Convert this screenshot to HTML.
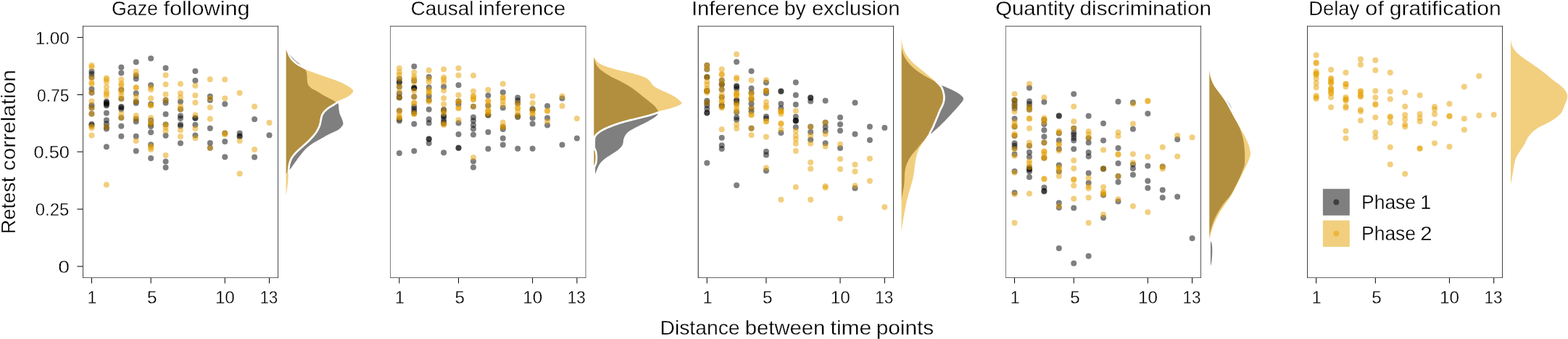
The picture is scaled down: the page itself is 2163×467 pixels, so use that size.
<!DOCTYPE html>
<html lang="en">
<head>
<meta charset="utf-8">
<title>Retest correlation by distance between time points</title>
<style>
html,body{margin:0;padding:0;background:#ffffff;}
body{width:2163px;height:467px;overflow:hidden;font-family:"Liberation Sans", Arial, Helvetica, sans-serif;}
svg{display:block;}
</style>
</head>
<body>
<svg width="2163" height="467" viewBox="0 0 2163 467" font-family='"Liberation Sans", Arial, Helvetica, sans-serif'>
<rect width="2163" height="467" fill="#ffffff"/>
<g id="panel1">
<text y="21.2" font-size="28.3" fill="#000" stroke="#fff" stroke-width="0.3"><tspan x="153.96" textLength="64.07" lengthAdjust="spacingAndGlyphs">Gaze</tspan> <tspan x="225.45" textLength="119.18" lengthAdjust="spacingAndGlyphs">following</tspan></text>
<g fill-opacity="0.5">
<circle cx="126.45" cy="98.5" r="4.0" fill="#000000"/>
<circle cx="126.45" cy="102" r="4.0" fill="#000000"/>
<circle cx="126.45" cy="106.5" r="4.0" fill="#000000"/>
<circle cx="126.45" cy="122.7" r="4.0" fill="#000000"/>
<circle cx="126.45" cy="127.7" r="4.0" fill="#000000"/>
<circle cx="126.45" cy="145" r="4.0" fill="#000000"/>
<circle cx="126.45" cy="148.4" r="4.0" fill="#000000"/>
<circle cx="126.45" cy="156.8" r="4.0" fill="#000000"/>
<circle cx="126.45" cy="171" r="4.0" fill="#000000"/>
<circle cx="126.45" cy="172.5" r="4.0" fill="#000000"/>
<circle cx="146.87" cy="139.8" r="4.0" fill="#000000"/>
<circle cx="146.87" cy="141.2" r="4.0" fill="#000000"/>
<circle cx="146.87" cy="142.6" r="4.0" fill="#000000"/>
<circle cx="146.87" cy="144" r="4.0" fill="#000000"/>
<circle cx="146.87" cy="145.6" r="4.0" fill="#000000"/>
<circle cx="146.87" cy="155.7" r="4.0" fill="#000000"/>
<circle cx="146.87" cy="165.4" r="4.0" fill="#000000"/>
<circle cx="146.87" cy="170.5" r="4.0" fill="#000000"/>
<circle cx="146.87" cy="174.9" r="4.0" fill="#000000"/>
<circle cx="146.87" cy="177.6" r="4.0" fill="#000000"/>
<circle cx="146.87" cy="202.3" r="4.0" fill="#000000"/>
<circle cx="167.29" cy="92.7" r="4.0" fill="#000000"/>
<circle cx="167.29" cy="100.4" r="4.0" fill="#000000"/>
<circle cx="167.29" cy="123.4" r="4.0" fill="#000000"/>
<circle cx="167.29" cy="136" r="4.0" fill="#000000"/>
<circle cx="167.29" cy="147" r="4.0" fill="#000000"/>
<circle cx="167.29" cy="148" r="4.0" fill="#000000"/>
<circle cx="167.29" cy="150.5" r="4.0" fill="#000000"/>
<circle cx="167.29" cy="162.3" r="4.0" fill="#000000"/>
<circle cx="167.29" cy="173.8" r="4.0" fill="#000000"/>
<circle cx="167.29" cy="187.8" r="4.0" fill="#000000"/>
<circle cx="187.71" cy="85.5" r="4.0" fill="#000000"/>
<circle cx="187.71" cy="104" r="4.0" fill="#000000"/>
<circle cx="187.71" cy="108.5" r="4.0" fill="#000000"/>
<circle cx="187.71" cy="128.6" r="4.0" fill="#000000"/>
<circle cx="187.71" cy="139.8" r="4.0" fill="#000000"/>
<circle cx="187.71" cy="142.1" r="4.0" fill="#000000"/>
<circle cx="187.71" cy="163.7" r="4.0" fill="#000000"/>
<circle cx="187.71" cy="167.6" r="4.0" fill="#000000"/>
<circle cx="187.71" cy="187.8" r="4.0" fill="#000000"/>
<circle cx="187.71" cy="207.9" r="4.0" fill="#000000"/>
<circle cx="208.13" cy="80.5" r="4.0" fill="#000000"/>
<circle cx="208.13" cy="117.3" r="4.0" fill="#000000"/>
<circle cx="208.13" cy="143.5" r="4.0" fill="#000000"/>
<circle cx="208.13" cy="165.8" r="4.0" fill="#000000"/>
<circle cx="208.13" cy="171" r="4.0" fill="#000000"/>
<circle cx="208.13" cy="174" r="4.0" fill="#000000"/>
<circle cx="208.13" cy="182.3" r="4.0" fill="#000000"/>
<circle cx="208.13" cy="199.2" r="4.0" fill="#000000"/>
<circle cx="208.13" cy="218" r="4.0" fill="#000000"/>
<circle cx="228.55" cy="93.7" r="4.0" fill="#000000"/>
<circle cx="228.55" cy="138" r="4.0" fill="#000000"/>
<circle cx="228.55" cy="141.7" r="4.0" fill="#000000"/>
<circle cx="228.55" cy="157.2" r="4.0" fill="#000000"/>
<circle cx="228.55" cy="171.5" r="4.0" fill="#000000"/>
<circle cx="228.55" cy="186.7" r="4.0" fill="#000000"/>
<circle cx="228.55" cy="222.4" r="4.0" fill="#000000"/>
<circle cx="228.55" cy="230.7" r="4.0" fill="#000000"/>
<circle cx="248.97" cy="140" r="4.0" fill="#000000"/>
<circle cx="248.97" cy="150.5" r="4.0" fill="#000000"/>
<circle cx="248.97" cy="159.5" r="4.0" fill="#000000"/>
<circle cx="248.97" cy="163" r="4.0" fill="#000000"/>
<circle cx="248.97" cy="171.4" r="4.0" fill="#000000"/>
<circle cx="248.97" cy="173.6" r="4.0" fill="#000000"/>
<circle cx="248.97" cy="197.3" r="4.0" fill="#000000"/>
<circle cx="269.39" cy="97.9" r="4.0" fill="#000000"/>
<circle cx="269.39" cy="111" r="4.0" fill="#000000"/>
<circle cx="269.39" cy="162.6" r="4.0" fill="#000000"/>
<circle cx="269.39" cy="163" r="4.0" fill="#000000"/>
<circle cx="269.39" cy="172.1" r="4.0" fill="#000000"/>
<circle cx="269.39" cy="186.4" r="4.0" fill="#000000"/>
<circle cx="289.81" cy="132.8" r="4.0" fill="#000000"/>
<circle cx="289.81" cy="138" r="4.0" fill="#000000"/>
<circle cx="289.81" cy="176.7" r="4.0" fill="#000000"/>
<circle cx="289.81" cy="196.9" r="4.0" fill="#000000"/>
<circle cx="289.81" cy="203.8" r="4.0" fill="#000000"/>
<circle cx="310.23" cy="143.3" r="4.0" fill="#000000"/>
<circle cx="310.23" cy="183.6" r="4.0" fill="#000000"/>
<circle cx="310.23" cy="195.1" r="4.0" fill="#000000"/>
<circle cx="310.23" cy="216.2" r="4.0" fill="#000000"/>
<circle cx="330.65" cy="183.6" r="4.0" fill="#000000"/>
<circle cx="330.65" cy="187.5" r="4.0" fill="#000000"/>
<circle cx="330.65" cy="188" r="4.0" fill="#000000"/>
<circle cx="351.07" cy="164.3" r="4.0" fill="#000000"/>
<circle cx="351.07" cy="216.6" r="4.0" fill="#000000"/>
<circle cx="371.49" cy="186.3" r="4.0" fill="#000000"/>
<circle cx="126.45" cy="89.9" r="4.0" fill="#E69F00"/>
<circle cx="126.45" cy="92.2" r="4.0" fill="#E69F00"/>
<circle cx="126.45" cy="107.3" r="4.0" fill="#E69F00"/>
<circle cx="126.45" cy="113.6" r="4.0" fill="#E69F00"/>
<circle cx="126.45" cy="115.8" r="4.0" fill="#E69F00"/>
<circle cx="126.45" cy="127.3" r="4.0" fill="#E69F00"/>
<circle cx="126.45" cy="139.4" r="4.0" fill="#E69F00"/>
<circle cx="126.45" cy="148.4" r="4.0" fill="#E69F00"/>
<circle cx="126.45" cy="156.8" r="4.0" fill="#E69F00"/>
<circle cx="126.45" cy="174.2" r="4.0" fill="#E69F00"/>
<circle cx="126.45" cy="176.3" r="4.0" fill="#E69F00"/>
<circle cx="126.45" cy="186.4" r="4.0" fill="#E69F00"/>
<circle cx="146.87" cy="107.5" r="4.0" fill="#E69F00"/>
<circle cx="146.87" cy="109.5" r="4.0" fill="#E69F00"/>
<circle cx="146.87" cy="113" r="4.0" fill="#E69F00"/>
<circle cx="146.87" cy="120" r="4.0" fill="#E69F00"/>
<circle cx="146.87" cy="126" r="4.0" fill="#E69F00"/>
<circle cx="146.87" cy="129" r="4.0" fill="#E69F00"/>
<circle cx="146.87" cy="132" r="4.0" fill="#E69F00"/>
<circle cx="146.87" cy="174.9" r="4.0" fill="#E69F00"/>
<circle cx="146.87" cy="254.5" r="4.0" fill="#E69F00"/>
<circle cx="167.29" cy="109.5" r="4.0" fill="#E69F00"/>
<circle cx="167.29" cy="115" r="4.0" fill="#E69F00"/>
<circle cx="167.29" cy="117.5" r="4.0" fill="#E69F00"/>
<circle cx="167.29" cy="123.8" r="4.0" fill="#E69F00"/>
<circle cx="167.29" cy="126.8" r="4.0" fill="#E69F00"/>
<circle cx="167.29" cy="131.7" r="4.0" fill="#E69F00"/>
<circle cx="167.29" cy="135.9" r="4.0" fill="#E69F00"/>
<circle cx="167.29" cy="156.8" r="4.0" fill="#E69F00"/>
<circle cx="167.29" cy="162.3" r="4.0" fill="#E69F00"/>
<circle cx="187.71" cy="98.4" r="4.0" fill="#E69F00"/>
<circle cx="187.71" cy="103.5" r="4.0" fill="#E69F00"/>
<circle cx="187.71" cy="120.5" r="4.0" fill="#E69F00"/>
<circle cx="187.71" cy="120.8" r="4.0" fill="#E69F00"/>
<circle cx="187.71" cy="133.1" r="4.0" fill="#E69F00"/>
<circle cx="187.71" cy="139.8" r="4.0" fill="#E69F00"/>
<circle cx="187.71" cy="159.3" r="4.0" fill="#E69F00"/>
<circle cx="187.71" cy="163.7" r="4.0" fill="#E69F00"/>
<circle cx="187.71" cy="193.9" r="4.0" fill="#E69F00"/>
<circle cx="208.13" cy="120.4" r="4.0" fill="#E69F00"/>
<circle cx="208.13" cy="123.5" r="4.0" fill="#E69F00"/>
<circle cx="208.13" cy="135.5" r="4.0" fill="#E69F00"/>
<circle cx="208.13" cy="145" r="4.0" fill="#E69F00"/>
<circle cx="208.13" cy="145.6" r="4.0" fill="#E69F00"/>
<circle cx="208.13" cy="162.3" r="4.0" fill="#E69F00"/>
<circle cx="208.13" cy="168.6" r="4.0" fill="#E69F00"/>
<circle cx="208.13" cy="171" r="4.0" fill="#E69F00"/>
<circle cx="208.13" cy="201.3" r="4.0" fill="#E69F00"/>
<circle cx="208.13" cy="203.4" r="4.0" fill="#E69F00"/>
<circle cx="208.13" cy="205.9" r="4.0" fill="#E69F00"/>
<circle cx="228.55" cy="103.5" r="4.0" fill="#E69F00"/>
<circle cx="228.55" cy="116.2" r="4.0" fill="#E69F00"/>
<circle cx="228.55" cy="130" r="4.0" fill="#E69F00"/>
<circle cx="228.55" cy="138" r="4.0" fill="#E69F00"/>
<circle cx="228.55" cy="171.5" r="4.0" fill="#E69F00"/>
<circle cx="228.55" cy="175.5" r="4.0" fill="#E69F00"/>
<circle cx="228.55" cy="180.4" r="4.0" fill="#E69F00"/>
<circle cx="228.55" cy="214" r="4.0" fill="#E69F00"/>
<circle cx="248.97" cy="115.6" r="4.0" fill="#E69F00"/>
<circle cx="248.97" cy="128.5" r="4.0" fill="#E69F00"/>
<circle cx="248.97" cy="134.2" r="4.0" fill="#E69F00"/>
<circle cx="248.97" cy="146.3" r="4.0" fill="#E69F00"/>
<circle cx="248.97" cy="150.5" r="4.0" fill="#E69F00"/>
<circle cx="248.97" cy="179.2" r="4.0" fill="#E69F00"/>
<circle cx="248.97" cy="188.1" r="4.0" fill="#E69F00"/>
<circle cx="269.39" cy="117.9" r="4.0" fill="#E69F00"/>
<circle cx="269.39" cy="131.4" r="4.0" fill="#E69F00"/>
<circle cx="269.39" cy="141.2" r="4.0" fill="#E69F00"/>
<circle cx="269.39" cy="158.4" r="4.0" fill="#E69F00"/>
<circle cx="269.39" cy="177" r="4.0" fill="#E69F00"/>
<circle cx="269.39" cy="190.2" r="4.0" fill="#E69F00"/>
<circle cx="289.81" cy="109.3" r="4.0" fill="#E69F00"/>
<circle cx="289.81" cy="135.6" r="4.0" fill="#E69F00"/>
<circle cx="289.81" cy="148" r="4.0" fill="#E69F00"/>
<circle cx="289.81" cy="163.7" r="4.0" fill="#E69F00"/>
<circle cx="289.81" cy="203.8" r="4.0" fill="#E69F00"/>
<circle cx="310.23" cy="109.5" r="4.0" fill="#E69F00"/>
<circle cx="310.23" cy="135.5" r="4.0" fill="#E69F00"/>
<circle cx="310.23" cy="183.6" r="4.0" fill="#E69F00"/>
<circle cx="310.23" cy="185.3" r="4.0" fill="#E69F00"/>
<circle cx="330.65" cy="127.9" r="4.0" fill="#E69F00"/>
<circle cx="330.65" cy="193.9" r="4.0" fill="#E69F00"/>
<circle cx="330.65" cy="239.2" r="4.0" fill="#E69F00"/>
<circle cx="351.07" cy="146.7" r="4.0" fill="#E69F00"/>
<circle cx="351.07" cy="205.9" r="4.0" fill="#E69F00"/>
<circle cx="371.49" cy="169" r="4.0" fill="#E69F00"/>
</g>
<g stroke="#000000" fill="none"><line x1="114.5" x2="114.5" y1="35.78" y2="382.8" stroke-width="0.75"/><line x1="383.5" x2="383.5" y1="35.78" y2="382.8" stroke-width="0.72"/><line x1="114.12" x2="383.86" y1="36.14" y2="36.14" stroke-width="0.72"/><line x1="114.12" x2="383.86" y1="382.5" y2="382.5" stroke-width="0.6"/></g>
<line x1="126.45" x2="126.45" y1="382.88" y2="390.4" stroke="#000" stroke-width="1"/>
<text y="418.3" font-size="24.5" fill="#000" stroke="#fff" stroke-width="0.3"><tspan x="120.58" textLength="12.95" lengthAdjust="spacingAndGlyphs">1</tspan></text>
<line x1="208.13" x2="208.13" y1="382.88" y2="390.4" stroke="#000" stroke-width="1"/>
<text y="418.3" font-size="24.5" fill="#000" stroke="#fff" stroke-width="0.3"><tspan x="203.11" textLength="13.49" lengthAdjust="spacingAndGlyphs">5</tspan></text>
<line x1="310.23" x2="310.23" y1="382.88" y2="390.4" stroke="#000" stroke-width="1"/>
<text y="418.3" font-size="24.5" fill="#000" stroke="#fff" stroke-width="0.3"><tspan x="296.89" textLength="26.97" lengthAdjust="spacingAndGlyphs">10</tspan></text>
<line x1="371.49" x2="371.49" y1="382.88" y2="390.4" stroke="#000" stroke-width="1"/>
<text y="418.3" font-size="24.5" fill="#000" stroke="#fff" stroke-width="0.3"><tspan x="358.4" textLength="24.95" lengthAdjust="spacingAndGlyphs">13</tspan></text>
<g stroke="#ffffff" stroke-width="2.7" stroke-linejoin="round" fill-opacity="0.5">
<path d="M393.15 65.5L395.85 65.5L396.18 66.08L396.59 66.83L397.08 67.73L397.64 68.74L398.24 69.81L398.87 70.91L399.53 72L400.19 73.04L400.85 74L401.45 74.81L402.08 75.62L402.73 76.43L403.4 77.24L404.09 78.03L404.78 78.81L405.48 79.57L406.18 80.31L406.87 81.02L407.55 81.7L408.4 82.5L409.25 83.23L410.1 83.92L410.95 84.58L411.8 85.23L412.65 85.89L413.5 86.58L414.35 87.3L415.12 87.98L415.92 88.69L416.73 89.41L417.54 90.15L418.33 90.89L419.09 91.62L419.81 92.34L420.47 93.03L421.05 93.7L421.79 94.64L422.41 95.52L422.92 96.38L423.35 97.22L423.72 98.09L424.05 99L424.32 99.96L424.5 100.95L424.62 101.96L424.7 102.97L424.77 103.99L424.85 105L424.92 106.01L424.95 107.03L424.98 108.05L425 109.06L425.05 110.05L425.15 111L425.28 112.1L425.41 113.17L425.59 114.2L425.88 115.21L426.35 116.2L426.87 117.01L427.49 117.8L428.21 118.58L429.01 119.33L429.89 120.08L430.85 120.8L431.65 121.33L432.53 121.83L433.46 122.33L434.44 122.81L435.44 123.3L436.44 123.79L437.42 124.28L438.35 124.8L439.23 125.33L440.08 125.86L440.9 126.39L441.73 126.94L442.56 127.49L443.44 128.05L444.36 128.62L445.35 129.2L446.21 129.68L447.12 130.18L448.08 130.68L449.07 131.2L450.07 131.72L451.07 132.24L452.07 132.75L453.04 133.25L453.97 133.73L454.85 134.2L455.9 134.77L456.94 135.32L457.94 135.86L458.91 136.39L459.85 136.9L460.73 137.39L461.57 137.86L462.35 138.3L463.49 138.91L464.51 139.43L465.41 139.92L466.19 140.42L466.85 141L467.61 142.1L468.04 143.31L468.35 144.7L468.49 145.65L468.56 146.67L468.59 147.75L468.64 148.87L468.75 150L468.88 150.97L469.02 151.98L469.19 153.01L469.38 154.03L469.59 155.04L469.85 156L470.22 157.09L470.66 158.13L471.13 159.15L471.61 160.17L472.05 161.2L472.49 162.28L472.93 163.39L473.36 164.49L473.74 165.54L474.05 166.5L474.44 167.82L474.68 168.97L474.65 170.2L474.47 171.24L474.18 172.33L473.67 173.48L472.85 174.7L472.32 175.34L471.75 176L471.12 176.68L470.41 177.38L469.62 178.09L468.72 178.82L467.7 179.55L466.55 180.3L465.82 180.73L465.02 181.17L464.16 181.61L463.25 182.06L462.3 182.51L461.31 182.97L460.31 183.43L459.29 183.89L458.26 184.35L457.24 184.82L456.22 185.29L455.23 185.76L454.27 186.23L453.35 186.7L452.38 187.21L451.42 187.73L450.47 188.26L449.52 188.79L448.58 189.32L447.65 189.86L446.72 190.39L445.8 190.92L444.89 191.45L443.99 191.98L443.1 192.49L442.22 193L441.35 193.5L440.42 194.02L439.5 194.53L438.58 195.02L437.68 195.5L436.79 195.98L435.91 196.46L435.04 196.93L434.18 197.42L433.33 197.91L432.5 198.42L431.67 198.95L430.85 199.5L429.97 200.12L429.1 200.75L428.25 201.4L427.4 202.05L426.57 202.72L425.75 203.4L424.95 204.1L424.16 204.81L423.37 205.52L422.61 206.26L421.85 207L421.11 207.76L420.37 208.56L419.66 209.37L418.95 210.2L418.25 211.03L417.57 211.88L416.9 212.72L416.25 213.56L415.6 214.39L414.97 215.21L414.35 216L413.69 216.85L413.05 217.69L412.44 218.52L411.84 219.33L411.26 220.14L410.68 220.95L410.1 221.76L409.53 222.57L408.94 223.38L408.35 224.2L407.75 225.03L407.16 225.87L406.57 226.71L405.97 227.55L405.38 228.39L404.79 229.23L404.19 230.07L403.58 230.89L402.97 231.7L402.35 232.5L401.61 233.41L400.81 234.36L399.98 235.34L399.14 236.3L398.32 237.22L397.55 238.09L396.87 238.85L396.29 239.5L395.85 240L393.15 240Z" fill="#000000"/>
<path d="M393.15 67.6L395.85 67.6L396.08 68.18L396.37 68.92L396.69 69.8L397.05 70.78L397.45 71.85L397.88 72.97L398.34 74.12L398.81 75.26L399.31 76.38L399.81 77.45L400.33 78.43L400.85 79.3L401.51 80.25L402.21 81.16L402.96 82.03L403.74 82.86L404.54 83.65L405.34 84.4L406.13 85.11L406.91 85.78L407.65 86.41L408.35 87L409.27 87.74L410.13 88.35L410.95 88.86L411.75 89.32L412.57 89.75L413.43 90.2L414.35 90.7L415.18 91.17L416.01 91.63L416.85 92.09L417.73 92.55L418.64 93.02L419.62 93.5L420.69 93.99L421.85 94.5L422.68 94.85L423.55 95.2L424.46 95.56L425.41 95.92L426.38 96.29L427.38 96.66L428.41 97.04L429.46 97.42L430.53 97.81L431.62 98.2L432.73 98.6L433.85 99L434.76 99.33L435.7 99.66L436.66 99.99L437.63 100.33L438.63 100.68L439.63 101.02L440.65 101.37L441.68 101.73L442.71 102.08L443.74 102.43L444.77 102.79L445.8 103.14L446.83 103.5L447.84 103.85L448.85 104.2L449.86 104.55L450.88 104.91L451.92 105.27L452.97 105.63L454.02 105.99L455.07 106.35L456.11 106.71L457.15 107.07L458.17 107.43L459.18 107.79L460.17 108.14L461.14 108.49L462.08 108.83L462.98 109.17L463.85 109.5L464.98 109.94L466.05 110.36L467.08 110.77L468.06 111.17L469.01 111.56L469.93 111.95L470.83 112.35L471.72 112.74L472.59 113.15L473.47 113.57L474.35 114L475.33 114.5L476.32 115.01L477.3 115.55L478.27 116.09L479.23 116.63L480.15 117.17L481.03 117.71L481.86 118.23L482.64 118.73L483.35 119.2L484.4 119.96L485.32 120.69L486.12 121.38L486.8 122.04L487.37 122.65L487.85 123.2L488.62 124.34L488.55 125.5L488.29 126.41L487.87 127.46L487.24 128.58L486.35 129.7L485.72 130.33L485 130.96L484.2 131.61L483.33 132.26L482.39 132.91L481.4 133.55L480.35 134.2L479.55 134.66L478.68 135.13L477.75 135.61L476.79 136.09L475.81 136.56L474.82 137.03L473.71 137.48L472.65 137.92L471.67 138.32L470.78 138.7L469.23 139.36L467.9 139.91L466.73 140.41L465.63 140.9L464.7 141.4L463.75 142.01L462.99 142.59L462.15 143.22L461 144L460.23 144.47L459.36 144.97L458.4 145.52L457.39 146.09L456.37 146.68L455.36 147.28L454.39 147.89L453.5 148.5L452.54 149.21L451.6 149.93L450.68 150.67L449.8 151.43L448.97 152.19L448.2 152.95L447.5 153.7L446.77 154.57L446.13 155.43L445.57 156.3L445.07 157.18L444.61 158.07L444.2 159L443.84 159.96L443.56 160.95L443.32 161.96L443.11 162.97L442.91 163.99L442.7 165L442.5 166L442.32 167L442.15 168L441.97 169L441.76 170L441.5 171L441.2 171.99L440.89 172.96L440.54 173.94L440.15 174.93L439.71 175.94L439.2 177L438.8 177.81L438.38 178.62L437.95 179.44L437.49 180.28L436.97 181.15L436.4 182.05L435.74 183L435 184L434.44 184.71L433.84 185.45L433.19 186.23L432.5 187.03L431.79 187.85L431.05 188.67L430.29 189.51L429.53 190.34L428.76 191.16L428 191.96L427.24 192.75L426.5 193.5L425.77 194.23L425.03 194.94L424.29 195.64L423.54 196.33L422.79 197L422.03 197.68L421.28 198.34L420.52 199.01L419.76 199.67L419.01 200.34L418.25 201.02L417.5 201.7L416.74 202.39L415.97 203.09L415.18 203.79L414.39 204.49L413.6 205.19L412.81 205.89L412.04 206.59L411.28 207.29L410.54 207.98L409.83 208.66L409.14 209.34L408.5 210L407.69 210.87L406.91 211.72L406.17 212.56L405.46 213.39L404.8 214.21L404.17 215.03L403.57 215.85L403.02 216.67L402.5 217.5L401.97 218.44L401.5 219.38L401.08 220.31L400.7 221.25L400.36 222.19L400.05 223.12L399.77 224.06L399.5 225L399.23 226.07L399.01 227.14L398.83 228.21L398.68 229.29L398.55 230.36L398.42 231.43L398.3 232.5L398.18 233.55L398.08 234.57L398 235.58L398.12 236.61L398.41 237.67L398.72 238.8L399.05 240L399 240.9L398.95 241.84L398.91 242.82L398.88 243.82L398.84 244.84L398.8 245.88L398.75 246.92L398.69 247.96L398.63 248.99L398.55 250L398.46 251L398.36 252.01L398.25 253.03L398.13 254.04L398.01 255.05L397.89 256.06L397.75 257.06L397.62 258.05L397.49 259.03L397.35 260L397.19 261.11L397.01 262.27L396.82 263.47L396.62 264.65L396.43 265.79L396.25 266.84L396.09 267.79L395.95 268.59L395.85 269.2L393.15 269.2Z" fill="#E69F00"/>
</g>
</g>
<g id="panel2">
<text y="21.2" font-size="28.3" fill="#000" stroke="#fff" stroke-width="0.3"><tspan x="566.5" textLength="87.02" lengthAdjust="spacingAndGlyphs">Causal</tspan> <tspan x="659.91" textLength="120.33" lengthAdjust="spacingAndGlyphs">inference</tspan></text>
<g fill-opacity="0.5">
<circle cx="550.85" cy="108.5" r="4.0" fill="#000000"/>
<circle cx="550.85" cy="113" r="4.0" fill="#000000"/>
<circle cx="550.85" cy="113.8" r="4.0" fill="#000000"/>
<circle cx="550.85" cy="119.5" r="4.0" fill="#000000"/>
<circle cx="550.85" cy="128.7" r="4.0" fill="#000000"/>
<circle cx="550.85" cy="134" r="4.0" fill="#000000"/>
<circle cx="550.85" cy="134.5" r="4.0" fill="#000000"/>
<circle cx="550.85" cy="152.4" r="4.0" fill="#000000"/>
<circle cx="550.85" cy="164" r="4.0" fill="#000000"/>
<circle cx="550.85" cy="166.5" r="4.0" fill="#000000"/>
<circle cx="550.85" cy="211" r="4.0" fill="#000000"/>
<circle cx="571.27" cy="91.6" r="4.0" fill="#000000"/>
<circle cx="571.27" cy="111" r="4.0" fill="#000000"/>
<circle cx="571.27" cy="120.8" r="4.0" fill="#000000"/>
<circle cx="571.27" cy="121.3" r="4.0" fill="#000000"/>
<circle cx="571.27" cy="121.8" r="4.0" fill="#000000"/>
<circle cx="571.27" cy="133.2" r="4.0" fill="#000000"/>
<circle cx="571.27" cy="146.8" r="4.0" fill="#000000"/>
<circle cx="571.27" cy="150" r="4.0" fill="#000000"/>
<circle cx="571.27" cy="153.2" r="4.0" fill="#000000"/>
<circle cx="571.27" cy="155.9" r="4.0" fill="#000000"/>
<circle cx="571.27" cy="170.8" r="4.0" fill="#000000"/>
<circle cx="571.27" cy="208" r="4.0" fill="#000000"/>
<circle cx="591.69" cy="106" r="4.0" fill="#000000"/>
<circle cx="591.69" cy="120.4" r="4.0" fill="#000000"/>
<circle cx="591.69" cy="132.2" r="4.0" fill="#000000"/>
<circle cx="591.69" cy="137.8" r="4.0" fill="#000000"/>
<circle cx="591.69" cy="150.7" r="4.0" fill="#000000"/>
<circle cx="591.69" cy="164.2" r="4.0" fill="#000000"/>
<circle cx="591.69" cy="169.5" r="4.0" fill="#000000"/>
<circle cx="591.69" cy="191.2" r="4.0" fill="#000000"/>
<circle cx="591.69" cy="191.8" r="4.0" fill="#000000"/>
<circle cx="591.69" cy="197.3" r="4.0" fill="#000000"/>
<circle cx="612.11" cy="119.4" r="4.0" fill="#000000"/>
<circle cx="612.11" cy="151" r="4.0" fill="#000000"/>
<circle cx="612.11" cy="152.4" r="4.0" fill="#000000"/>
<circle cx="612.11" cy="159.5" r="4.0" fill="#000000"/>
<circle cx="612.11" cy="161" r="4.0" fill="#000000"/>
<circle cx="612.11" cy="165" r="4.0" fill="#000000"/>
<circle cx="612.11" cy="168.5" r="4.0" fill="#000000"/>
<circle cx="612.11" cy="170.5" r="4.0" fill="#000000"/>
<circle cx="612.11" cy="210.3" r="4.0" fill="#000000"/>
<circle cx="632.53" cy="117.3" r="4.0" fill="#000000"/>
<circle cx="632.53" cy="139.6" r="4.0" fill="#000000"/>
<circle cx="632.53" cy="143.4" r="4.0" fill="#000000"/>
<circle cx="632.53" cy="169.5" r="4.0" fill="#000000"/>
<circle cx="632.53" cy="185" r="4.0" fill="#000000"/>
<circle cx="632.53" cy="203.6" r="4.0" fill="#000000"/>
<circle cx="632.53" cy="204" r="4.0" fill="#000000"/>
<circle cx="652.95" cy="146.8" r="4.0" fill="#000000"/>
<circle cx="652.95" cy="161.5" r="4.0" fill="#000000"/>
<circle cx="652.95" cy="166.3" r="4.0" fill="#000000"/>
<circle cx="652.95" cy="172.3" r="4.0" fill="#000000"/>
<circle cx="652.95" cy="177.5" r="4.0" fill="#000000"/>
<circle cx="652.95" cy="185.5" r="4.0" fill="#000000"/>
<circle cx="652.95" cy="222.2" r="4.0" fill="#000000"/>
<circle cx="652.95" cy="230.5" r="4.0" fill="#000000"/>
<circle cx="673.37" cy="131.5" r="4.0" fill="#000000"/>
<circle cx="673.37" cy="145.5" r="4.0" fill="#000000"/>
<circle cx="673.37" cy="158.2" r="4.0" fill="#000000"/>
<circle cx="673.37" cy="158.7" r="4.0" fill="#000000"/>
<circle cx="673.37" cy="181.9" r="4.0" fill="#000000"/>
<circle cx="673.37" cy="204.9" r="4.0" fill="#000000"/>
<circle cx="693.79" cy="127.3" r="4.0" fill="#000000"/>
<circle cx="693.79" cy="148.5" r="4.0" fill="#000000"/>
<circle cx="693.79" cy="174.7" r="4.0" fill="#000000"/>
<circle cx="693.79" cy="177.9" r="4.0" fill="#000000"/>
<circle cx="693.79" cy="190.5" r="4.0" fill="#000000"/>
<circle cx="693.79" cy="199.5" r="4.0" fill="#000000"/>
<circle cx="714.21" cy="134.6" r="4.0" fill="#000000"/>
<circle cx="714.21" cy="138.5" r="4.0" fill="#000000"/>
<circle cx="714.21" cy="142.5" r="4.0" fill="#000000"/>
<circle cx="714.21" cy="159.4" r="4.0" fill="#000000"/>
<circle cx="714.21" cy="161.2" r="4.0" fill="#000000"/>
<circle cx="714.21" cy="204.8" r="4.0" fill="#000000"/>
<circle cx="734.63" cy="150" r="4.0" fill="#000000"/>
<circle cx="734.63" cy="151.7" r="4.0" fill="#000000"/>
<circle cx="734.63" cy="162.6" r="4.0" fill="#000000"/>
<circle cx="734.63" cy="170.5" r="4.0" fill="#000000"/>
<circle cx="734.63" cy="204.8" r="4.0" fill="#000000"/>
<circle cx="755.05" cy="146" r="4.0" fill="#000000"/>
<circle cx="755.05" cy="162.6" r="4.0" fill="#000000"/>
<circle cx="755.05" cy="172.6" r="4.0" fill="#000000"/>
<circle cx="775.47" cy="135.5" r="4.0" fill="#000000"/>
<circle cx="775.47" cy="199.6" r="4.0" fill="#000000"/>
<circle cx="795.89" cy="190.5" r="4.0" fill="#000000"/>
<circle cx="550.85" cy="93.9" r="4.0" fill="#E69F00"/>
<circle cx="550.85" cy="99.5" r="4.0" fill="#E69F00"/>
<circle cx="550.85" cy="103" r="4.0" fill="#E69F00"/>
<circle cx="550.85" cy="108.5" r="4.0" fill="#E69F00"/>
<circle cx="550.85" cy="119" r="4.0" fill="#E69F00"/>
<circle cx="550.85" cy="126" r="4.0" fill="#E69F00"/>
<circle cx="550.85" cy="134" r="4.0" fill="#E69F00"/>
<circle cx="550.85" cy="152.4" r="4.0" fill="#E69F00"/>
<circle cx="550.85" cy="157.3" r="4.0" fill="#E69F00"/>
<circle cx="550.85" cy="161.2" r="4.0" fill="#E69F00"/>
<circle cx="550.85" cy="162.8" r="4.0" fill="#E69F00"/>
<circle cx="571.27" cy="99.8" r="4.0" fill="#E69F00"/>
<circle cx="571.27" cy="105.8" r="4.0" fill="#E69F00"/>
<circle cx="571.27" cy="108.5" r="4.0" fill="#E69F00"/>
<circle cx="571.27" cy="113.4" r="4.0" fill="#E69F00"/>
<circle cx="571.27" cy="125.2" r="4.0" fill="#E69F00"/>
<circle cx="571.27" cy="133.2" r="4.0" fill="#E69F00"/>
<circle cx="571.27" cy="141.5" r="4.0" fill="#E69F00"/>
<circle cx="571.27" cy="142.2" r="4.0" fill="#E69F00"/>
<circle cx="571.27" cy="155.9" r="4.0" fill="#E69F00"/>
<circle cx="571.27" cy="157.3" r="4.0" fill="#E69F00"/>
<circle cx="591.69" cy="96.7" r="4.0" fill="#E69F00"/>
<circle cx="591.69" cy="108.5" r="4.0" fill="#E69F00"/>
<circle cx="591.69" cy="112.7" r="4.0" fill="#E69F00"/>
<circle cx="591.69" cy="123.2" r="4.0" fill="#E69F00"/>
<circle cx="591.69" cy="126.5" r="4.0" fill="#E69F00"/>
<circle cx="591.69" cy="128" r="4.0" fill="#E69F00"/>
<circle cx="591.69" cy="137.8" r="4.0" fill="#E69F00"/>
<circle cx="591.69" cy="139.9" r="4.0" fill="#E69F00"/>
<circle cx="612.11" cy="95.6" r="4.0" fill="#E69F00"/>
<circle cx="612.11" cy="106.5" r="4.0" fill="#E69F00"/>
<circle cx="612.11" cy="109.2" r="4.0" fill="#E69F00"/>
<circle cx="612.11" cy="113.4" r="4.0" fill="#E69F00"/>
<circle cx="612.11" cy="124.8" r="4.0" fill="#E69F00"/>
<circle cx="612.11" cy="135.3" r="4.0" fill="#E69F00"/>
<circle cx="612.11" cy="143.5" r="4.0" fill="#E69F00"/>
<circle cx="612.11" cy="152.4" r="4.0" fill="#E69F00"/>
<circle cx="612.11" cy="155.9" r="4.0" fill="#E69F00"/>
<circle cx="612.11" cy="170.5" r="4.0" fill="#E69F00"/>
<circle cx="612.11" cy="171.9" r="4.0" fill="#E69F00"/>
<circle cx="632.53" cy="93.9" r="4.0" fill="#E69F00"/>
<circle cx="632.53" cy="103.7" r="4.0" fill="#E69F00"/>
<circle cx="632.53" cy="131" r="4.0" fill="#E69F00"/>
<circle cx="632.53" cy="139.6" r="4.0" fill="#E69F00"/>
<circle cx="632.53" cy="140.2" r="4.0" fill="#E69F00"/>
<circle cx="632.53" cy="148.6" r="4.0" fill="#E69F00"/>
<circle cx="632.53" cy="149.2" r="4.0" fill="#E69F00"/>
<circle cx="632.53" cy="165.3" r="4.0" fill="#E69F00"/>
<circle cx="652.95" cy="104.1" r="4.0" fill="#E69F00"/>
<circle cx="652.95" cy="125.7" r="4.0" fill="#E69F00"/>
<circle cx="652.95" cy="132.6" r="4.0" fill="#E69F00"/>
<circle cx="652.95" cy="133.2" r="4.0" fill="#E69F00"/>
<circle cx="652.95" cy="136.7" r="4.0" fill="#E69F00"/>
<circle cx="652.95" cy="137.3" r="4.0" fill="#E69F00"/>
<circle cx="652.95" cy="146.8" r="4.0" fill="#E69F00"/>
<circle cx="652.95" cy="217" r="4.0" fill="#E69F00"/>
<circle cx="673.37" cy="123.7" r="4.0" fill="#E69F00"/>
<circle cx="673.37" cy="139" r="4.0" fill="#E69F00"/>
<circle cx="673.37" cy="139.8" r="4.0" fill="#E69F00"/>
<circle cx="673.37" cy="145.5" r="4.0" fill="#E69F00"/>
<circle cx="673.37" cy="152.1" r="4.0" fill="#E69F00"/>
<circle cx="673.37" cy="152.7" r="4.0" fill="#E69F00"/>
<circle cx="673.37" cy="154.5" r="4.0" fill="#E69F00"/>
<circle cx="673.37" cy="157.5" r="4.0" fill="#E69F00"/>
<circle cx="693.79" cy="115.4" r="4.0" fill="#E69F00"/>
<circle cx="693.79" cy="133.6" r="4.0" fill="#E69F00"/>
<circle cx="693.79" cy="135.3" r="4.0" fill="#E69F00"/>
<circle cx="693.79" cy="139.2" r="4.0" fill="#E69F00"/>
<circle cx="693.79" cy="144.5" r="4.0" fill="#E69F00"/>
<circle cx="693.79" cy="168.7" r="4.0" fill="#E69F00"/>
<circle cx="693.79" cy="174.4" r="4.0" fill="#E69F00"/>
<circle cx="693.79" cy="175" r="4.0" fill="#E69F00"/>
<circle cx="714.21" cy="142.5" r="4.0" fill="#E69F00"/>
<circle cx="714.21" cy="148.6" r="4.0" fill="#E69F00"/>
<circle cx="714.21" cy="149.2" r="4.0" fill="#E69F00"/>
<circle cx="714.21" cy="154.5" r="4.0" fill="#E69F00"/>
<circle cx="714.21" cy="159.4" r="4.0" fill="#E69F00"/>
<circle cx="734.63" cy="132.5" r="4.0" fill="#E69F00"/>
<circle cx="734.63" cy="142.1" r="4.0" fill="#E69F00"/>
<circle cx="734.63" cy="151.7" r="4.0" fill="#E69F00"/>
<circle cx="734.63" cy="156.3" r="4.0" fill="#E69F00"/>
<circle cx="734.63" cy="156.9" r="4.0" fill="#E69F00"/>
<circle cx="755.05" cy="152.4" r="4.0" fill="#E69F00"/>
<circle cx="755.05" cy="153" r="4.0" fill="#E69F00"/>
<circle cx="755.05" cy="167.3" r="4.0" fill="#E69F00"/>
<circle cx="775.47" cy="132.6" r="4.0" fill="#E69F00"/>
<circle cx="775.47" cy="146" r="4.0" fill="#E69F00"/>
<circle cx="795.89" cy="163.3" r="4.0" fill="#E69F00"/>
</g>
<g stroke="#000000" fill="none"><line x1="538.5" x2="538.5" y1="35.78" y2="382.8" stroke-width="0.5"/><line x1="808" x2="808" y1="35.78" y2="382.8" stroke-width="0.56"/><line x1="538.25" x2="808.28" y1="36.14" y2="36.14" stroke-width="0.72"/><line x1="538.25" x2="808.28" y1="382.5" y2="382.5" stroke-width="0.6"/></g>
<line x1="550.85" x2="550.85" y1="382.88" y2="390.4" stroke="#000" stroke-width="1"/>
<text y="418.3" font-size="24.5" fill="#000" stroke="#fff" stroke-width="0.3"><tspan x="544.98" textLength="12.95" lengthAdjust="spacingAndGlyphs">1</tspan></text>
<line x1="632.53" x2="632.53" y1="382.88" y2="390.4" stroke="#000" stroke-width="1"/>
<text y="418.3" font-size="24.5" fill="#000" stroke="#fff" stroke-width="0.3"><tspan x="627.51" textLength="13.49" lengthAdjust="spacingAndGlyphs">5</tspan></text>
<line x1="734.63" x2="734.63" y1="382.88" y2="390.4" stroke="#000" stroke-width="1"/>
<text y="418.3" font-size="24.5" fill="#000" stroke="#fff" stroke-width="0.3"><tspan x="721.29" textLength="26.97" lengthAdjust="spacingAndGlyphs">10</tspan></text>
<line x1="795.89" x2="795.89" y1="382.88" y2="390.4" stroke="#000" stroke-width="1"/>
<text y="418.3" font-size="24.5" fill="#000" stroke="#fff" stroke-width="0.3"><tspan x="782.8" textLength="24.95" lengthAdjust="spacingAndGlyphs">13</tspan></text>
<g stroke="#ffffff" stroke-width="2.7" stroke-linejoin="round" fill-opacity="0.5">
<path d="M817.85 79L820.55 79L820.74 79.57L820.96 80.31L821.21 81.19L821.5 82.17L821.81 83.23L822.16 84.34L822.54 85.46L822.94 86.57L823.38 87.63L823.85 88.62L824.35 89.5L824.93 90.37L825.54 91.19L826.19 91.97L826.87 92.72L827.59 93.44L828.35 94.14L829.15 94.84L830 95.55L830.9 96.26L831.85 97L832.57 97.54L833.32 98.08L834.1 98.62L834.91 99.17L835.74 99.71L836.6 100.26L837.48 100.8L838.37 101.34L839.27 101.88L840.18 102.42L841.1 102.95L842.02 103.47L842.94 103.99L843.85 104.5L844.71 104.97L845.59 105.43L846.48 105.89L847.38 106.34L848.29 106.79L849.21 107.23L850.14 107.67L851.06 108.11L851.99 108.55L852.91 108.99L853.82 109.43L854.72 109.87L855.61 110.31L856.49 110.75L857.35 111.2L858.33 111.72L859.29 112.23L860.25 112.75L861.2 113.26L862.14 113.78L863.07 114.29L864 114.81L864.91 115.33L865.82 115.85L866.71 116.38L867.6 116.91L868.48 117.45L869.35 118L870.29 118.6L871.22 119.22L872.14 119.85L873.05 120.49L873.96 121.13L874.85 121.77L875.73 122.41L876.59 123.05L877.44 123.68L878.26 124.3L879.07 124.91L879.85 125.5L880.75 126.19L881.6 126.86L882.42 127.52L883.21 128.16L883.98 128.8L884.73 129.43L885.49 130.07L886.26 130.7L887.04 131.35L887.85 132L888.68 132.66L889.53 133.33L890.39 134.01L891.26 134.68L892.13 135.36L893 136.04L893.86 136.71L894.71 137.38L895.54 138.05L896.35 138.7L897.24 139.42L898.14 140.13L899.04 140.84L899.92 141.54L900.78 142.24L901.61 142.94L902.4 143.63L903.15 144.32L903.85 145L904.68 145.89L905.47 146.8L906.19 147.71L906.84 148.61L907.43 149.46L907.93 150.27L908.35 151L908.92 152.4L909.06 153.54L909.05 154.7L909.12 155.91L909.03 157.13L908.35 158.5L907.82 159.16L907.2 159.84L906.46 160.55L905.62 161.29L904.66 162.06L903.57 162.86L902.35 163.7L901.63 164.17L900.85 164.66L900.02 165.16L899.15 165.68L898.24 166.2L897.3 166.74L896.33 167.28L895.35 167.82L894.35 168.36L893.34 168.9L892.34 169.44L891.34 169.98L890.35 170.5L889.48 170.95L888.59 171.41L887.67 171.87L886.74 172.33L885.79 172.79L884.84 173.25L883.89 173.71L882.94 174.17L882 174.63L881.07 175.07L880.17 175.52L879.29 175.95L878.44 176.38L877.62 176.79L876.85 177.2L875.75 177.79L874.69 178.35L873.68 178.9L872.71 179.43L871.79 179.94L870.91 180.45L870.08 180.96L869.29 181.47L868.55 181.98L867.85 182.5L866.81 183.37L865.92 184.24L865.16 185.1L864.5 185.96L863.9 186.83L863.35 187.7L862.77 188.77L862.3 189.88L861.92 190.97L861.61 192.02L861.35 193L861.15 194.07L861.1 195.02L861.05 195.96L860.85 197L860.61 197.92L860.35 198.88L860.01 199.88L859.53 200.92L858.85 202L858.31 202.7L857.7 203.43L857.02 204.18L856.29 204.94L855.5 205.71L854.65 206.48L853.77 207.24L852.85 208L852.07 208.6L851.24 209.2L850.37 209.8L849.47 210.4L848.54 211L847.59 211.6L846.64 212.2L845.7 212.8L844.76 213.4L843.85 214L842.94 214.6L842 215.2L841.06 215.8L840.11 216.4L839.16 217L838.23 217.6L837.33 218.2L836.46 218.8L835.63 219.4L834.85 220L833.94 220.75L833.08 221.48L832.27 222.22L831.51 222.96L830.79 223.7L830.1 224.45L829.46 225.22L828.85 226L828.21 226.93L827.62 227.9L827.1 228.9L826.61 229.89L826.17 230.87L825.75 231.81L825.35 232.7L824.85 233.87L824.42 234.98L824.04 236.04L823.69 237.05L823.35 238L822.9 239.19L822.48 240.33L822.11 241.31L821.85 242L817.85 242Z" fill="#000000"/>
<path d="M817.85 77.8L820.55 77.8L820.92 78.37L821.38 79.14L821.92 80.06L822.54 81.07L823.25 82.13L824.04 83.17L824.9 84.15L825.85 85L826.59 85.55L827.38 86.08L828.22 86.58L829.1 87.07L830.02 87.54L830.98 88L831.98 88.44L833.02 88.89L834.1 89.32L835.21 89.76L836.35 90.2L837.22 90.52L838.12 90.84L839.06 91.16L840.03 91.48L841.02 91.79L842.03 92.1L843.05 92.4L844.09 92.71L845.13 93.01L846.18 93.3L847.23 93.59L848.28 93.88L849.32 94.16L850.34 94.43L851.35 94.7L852.35 94.96L853.35 95.21L854.35 95.46L855.35 95.69L856.35 95.92L857.35 96.15L858.35 96.37L859.35 96.59L860.35 96.81L861.35 97.03L862.35 97.26L863.35 97.48L864.35 97.72L865.35 97.95L866.35 98.2L867.36 98.45L868.38 98.71L869.42 98.97L870.47 99.23L871.52 99.49L872.57 99.76L873.61 100.03L874.65 100.3L875.67 100.57L876.68 100.84L877.67 101.11L878.64 101.39L879.58 101.66L880.48 101.93L881.35 102.2L882.49 102.57L883.59 102.93L884.66 103.29L885.69 103.65L886.68 104.01L887.64 104.38L888.55 104.75L889.43 105.12L890.28 105.5L891.08 105.9L891.85 106.3L892.96 106.95L893.94 107.61L894.82 108.29L895.62 108.98L896.38 109.7L897.11 110.44L897.85 111.2L898.53 112.01L899.11 112.85L899.65 113.73L900.19 114.62L900.78 115.5L901.48 116.37L902.35 117.2L903.05 117.76L903.81 118.31L904.62 118.84L905.48 119.38L906.38 119.9L907.32 120.42L908.29 120.94L909.29 121.46L910.31 121.98L911.35 122.5L912.18 122.9L913.06 123.31L913.98 123.71L914.92 124.11L915.88 124.52L916.86 124.92L917.84 125.32L918.82 125.72L919.78 126.12L920.72 126.52L921.64 126.91L922.52 127.31L923.35 127.7L924.38 128.21L925.39 128.72L926.37 129.22L927.31 129.72L928.23 130.22L929.11 130.72L929.97 131.22L930.79 131.72L931.59 132.21L932.35 132.7L933.38 133.4L934.35 134.1L935.25 134.8L936.1 135.5L936.89 136.18L937.64 136.85L938.35 137.5L939.36 138.38L940.35 139.23L941.21 140.06L941.82 140.88L942.05 141.7L941.92 142.5L941.5 143.29L940.78 144.07L939.74 144.87L938.35 145.7L937.65 146.06L936.87 146.42L936 146.8L935.08 147.17L934.09 147.55L933.06 147.94L931.98 148.32L930.88 148.7L929.76 149.08L928.62 149.46L927.48 149.83L926.35 150.2L925.44 150.49L924.5 150.77L923.53 151.05L922.46 151.33L921.37 151.6L920.27 151.87L919.16 152.15L918.05 152.42L916.92 152.69L915.8 152.97L914.67 153.24L913.55 153.53L912.42 153.81L911.31 154.1L910.2 154.4L909.1 154.7L908 155.02L907 155.34L906 155.66L905 155.99L904 156.32L903 156.66L902 156.99L901 157.32L900 157.65L899 157.98L898 158.29L897 158.61L896 158.91L895 159.2L894 159.48L893 159.76L892 160.03L891 160.29L890 160.54L889 160.8L888 161.05L887 161.29L886 161.54L885 161.78L884 162.02L883 162.26L882 162.51L881 162.75L880 163L879 163.25L878 163.49L877 163.73L876 163.97L875 164.21L874 164.45L873 164.69L872 164.93L871 165.17L870 165.41L869 165.66L868 165.91L867 166.17L866 166.43L865 166.7L864 166.97L863 167.25L862 167.52L861 167.8L860 168.09L859 168.37L858 168.66L857 168.95L856 169.25L855 169.56L854 169.87L853 170.19L852 170.52L851 170.85L850 171.2L849.05 171.54L848.08 171.88L847.1 172.24L846.11 172.61L845.11 172.99L844.11 173.37L843.11 173.76L842.12 174.15L841.15 174.54L840.19 174.94L839.24 175.33L838.33 175.71L837.44 176.1L836.59 176.47L835.77 176.84L835 177.2L833.84 177.76L832.75 178.31L831.73 178.86L830.77 179.39L829.86 179.92L829.01 180.45L828.2 180.97L827.44 181.48L826.7 181.99L826 182.5L824.92 183.33L823.96 184.14L823.12 184.94L822.39 185.73L821.75 186.51L821.2 187.3L820.59 188.33L820.23 189.26L820.01 190.38L819.85 192L819.79 192.78L819.74 193.68L819.69 194.68L819.66 195.75L819.64 196.86L819.63 197.98L819.63 199.1L819.66 200.19L819.7 201.22L819.76 202.16L819.85 203L820.1 204.27L820.46 205.3L820.87 206.19L821.3 207.04L821.69 207.94L822 209L822.18 209.9L822.34 210.86L822.49 211.85L822.61 212.88L822.71 213.91L822.79 214.95L822.83 215.99L822.85 217L822.83 218.01L822.79 219.05L822.71 220.09L822.61 221.12L822.49 222.15L822.34 223.14L822.18 224.1L822 225L821.69 226.08L821.3 227.02L820.87 227.91L820.46 228.81L820.1 229.82L819.85 231L819.76 231.95L819.71 233.06L819.69 234.26L819.7 235.5L819.73 236.74L819.77 237.91L819.81 238.96L819.84 239.84L819.85 240.5L817.85 240.5Z" fill="#E69F00"/>
</g>
</g>
<g id="panel3">
<text y="21.2" font-size="28.3" fill="#000" stroke="#fff" stroke-width="0.3"><tspan x="954" textLength="121.19" lengthAdjust="spacingAndGlyphs">Inference</tspan> <tspan x="1081.73" textLength="29.95" lengthAdjust="spacingAndGlyphs">by</tspan> <tspan x="1119.9" textLength="121.51" lengthAdjust="spacingAndGlyphs">exclusion</tspan></text>
<g fill-opacity="0.5">
<circle cx="975.25" cy="90" r="4.0" fill="#000000"/>
<circle cx="975.25" cy="95.5" r="4.0" fill="#000000"/>
<circle cx="975.25" cy="106" r="4.0" fill="#000000"/>
<circle cx="975.25" cy="106.5" r="4.0" fill="#000000"/>
<circle cx="975.25" cy="125" r="4.0" fill="#000000"/>
<circle cx="975.25" cy="125.5" r="4.0" fill="#000000"/>
<circle cx="975.25" cy="138.8" r="4.0" fill="#000000"/>
<circle cx="975.25" cy="141.6" r="4.0" fill="#000000"/>
<circle cx="975.25" cy="145" r="4.0" fill="#000000"/>
<circle cx="975.25" cy="149.9" r="4.0" fill="#000000"/>
<circle cx="975.25" cy="155.2" r="4.0" fill="#000000"/>
<circle cx="975.25" cy="155.8" r="4.0" fill="#000000"/>
<circle cx="975.25" cy="224.4" r="4.0" fill="#000000"/>
<circle cx="995.67" cy="110.7" r="4.0" fill="#000000"/>
<circle cx="995.67" cy="116" r="4.0" fill="#000000"/>
<circle cx="995.67" cy="116.5" r="4.0" fill="#000000"/>
<circle cx="995.67" cy="123.3" r="4.0" fill="#000000"/>
<circle cx="995.67" cy="133.9" r="4.0" fill="#000000"/>
<circle cx="995.67" cy="145" r="4.0" fill="#000000"/>
<circle cx="995.67" cy="146.5" r="4.0" fill="#000000"/>
<circle cx="995.67" cy="189.8" r="4.0" fill="#000000"/>
<circle cx="995.67" cy="200.3" r="4.0" fill="#000000"/>
<circle cx="995.67" cy="204.9" r="4.0" fill="#000000"/>
<circle cx="1016.09" cy="85.2" r="4.0" fill="#000000"/>
<circle cx="1016.09" cy="118.2" r="4.0" fill="#000000"/>
<circle cx="1016.09" cy="119.4" r="4.0" fill="#000000"/>
<circle cx="1016.09" cy="122.6" r="4.0" fill="#000000"/>
<circle cx="1016.09" cy="137.8" r="4.0" fill="#000000"/>
<circle cx="1016.09" cy="138.4" r="4.0" fill="#000000"/>
<circle cx="1016.09" cy="142.3" r="4.0" fill="#000000"/>
<circle cx="1016.09" cy="154.5" r="4.0" fill="#000000"/>
<circle cx="1016.09" cy="161.8" r="4.0" fill="#000000"/>
<circle cx="1016.09" cy="165" r="4.0" fill="#000000"/>
<circle cx="1016.09" cy="255.3" r="4.0" fill="#000000"/>
<circle cx="1036.51" cy="98" r="4.0" fill="#000000"/>
<circle cx="1036.51" cy="121.8" r="4.0" fill="#000000"/>
<circle cx="1036.51" cy="128" r="4.0" fill="#000000"/>
<circle cx="1036.51" cy="136.7" r="4.0" fill="#000000"/>
<circle cx="1036.51" cy="143" r="4.0" fill="#000000"/>
<circle cx="1036.51" cy="149.2" r="4.0" fill="#000000"/>
<circle cx="1036.51" cy="153.4" r="4.0" fill="#000000"/>
<circle cx="1036.51" cy="176.8" r="4.0" fill="#000000"/>
<circle cx="1056.93" cy="113.7" r="4.0" fill="#000000"/>
<circle cx="1056.93" cy="125" r="4.0" fill="#000000"/>
<circle cx="1056.93" cy="128.5" r="4.0" fill="#000000"/>
<circle cx="1056.93" cy="160.4" r="4.0" fill="#000000"/>
<circle cx="1056.93" cy="163.3" r="4.0" fill="#000000"/>
<circle cx="1056.93" cy="208.7" r="4.0" fill="#000000"/>
<circle cx="1056.93" cy="213.6" r="4.0" fill="#000000"/>
<circle cx="1056.93" cy="235.2" r="4.0" fill="#000000"/>
<circle cx="1077.35" cy="125.4" r="4.0" fill="#000000"/>
<circle cx="1077.35" cy="125.9" r="4.0" fill="#000000"/>
<circle cx="1077.35" cy="143" r="4.0" fill="#000000"/>
<circle cx="1077.35" cy="149.2" r="4.0" fill="#000000"/>
<circle cx="1077.35" cy="183" r="4.0" fill="#000000"/>
<circle cx="1097.77" cy="113.4" r="4.0" fill="#000000"/>
<circle cx="1097.77" cy="131" r="4.0" fill="#000000"/>
<circle cx="1097.77" cy="143.9" r="4.0" fill="#000000"/>
<circle cx="1097.77" cy="160.8" r="4.0" fill="#000000"/>
<circle cx="1097.77" cy="165.8" r="4.0" fill="#000000"/>
<circle cx="1097.77" cy="166.2" r="4.0" fill="#000000"/>
<circle cx="1097.77" cy="166.7" r="4.0" fill="#000000"/>
<circle cx="1097.77" cy="175.2" r="4.0" fill="#000000"/>
<circle cx="1118.19" cy="134.3" r="4.0" fill="#000000"/>
<circle cx="1118.19" cy="134.9" r="4.0" fill="#000000"/>
<circle cx="1118.19" cy="139.5" r="4.0" fill="#000000"/>
<circle cx="1118.19" cy="174.6" r="4.0" fill="#000000"/>
<circle cx="1118.19" cy="182" r="4.0" fill="#000000"/>
<circle cx="1118.19" cy="192.4" r="4.0" fill="#000000"/>
<circle cx="1138.61" cy="138.8" r="4.0" fill="#000000"/>
<circle cx="1138.61" cy="168.7" r="4.0" fill="#000000"/>
<circle cx="1138.61" cy="174.8" r="4.0" fill="#000000"/>
<circle cx="1138.61" cy="180.4" r="4.0" fill="#000000"/>
<circle cx="1138.61" cy="197.3" r="4.0" fill="#000000"/>
<circle cx="1159.03" cy="161.8" r="4.0" fill="#000000"/>
<circle cx="1159.03" cy="171.2" r="4.0" fill="#000000"/>
<circle cx="1159.03" cy="179.9" r="4.0" fill="#000000"/>
<circle cx="1159.03" cy="204" r="4.0" fill="#000000"/>
<circle cx="1179.45" cy="141.6" r="4.0" fill="#000000"/>
<circle cx="1179.45" cy="184.7" r="4.0" fill="#000000"/>
<circle cx="1179.45" cy="259.2" r="4.0" fill="#000000"/>
<circle cx="1199.87" cy="174.6" r="4.0" fill="#000000"/>
<circle cx="1199.87" cy="193.1" r="4.0" fill="#000000"/>
<circle cx="1220.29" cy="176" r="4.0" fill="#000000"/>
<circle cx="975.25" cy="90" r="4.0" fill="#E69F00"/>
<circle cx="975.25" cy="95" r="4.0" fill="#E69F00"/>
<circle cx="975.25" cy="106" r="4.0" fill="#E69F00"/>
<circle cx="975.25" cy="112.3" r="4.0" fill="#E69F00"/>
<circle cx="975.25" cy="116.5" r="4.0" fill="#E69F00"/>
<circle cx="975.25" cy="121.7" r="4.0" fill="#E69F00"/>
<circle cx="975.25" cy="125.3" r="4.0" fill="#E69F00"/>
<circle cx="975.25" cy="127.5" r="4.0" fill="#E69F00"/>
<circle cx="975.25" cy="141.6" r="4.0" fill="#E69F00"/>
<circle cx="995.67" cy="95.6" r="4.0" fill="#E69F00"/>
<circle cx="995.67" cy="102.3" r="4.0" fill="#E69F00"/>
<circle cx="995.67" cy="102.9" r="4.0" fill="#E69F00"/>
<circle cx="995.67" cy="110.7" r="4.0" fill="#E69F00"/>
<circle cx="995.67" cy="116.2" r="4.0" fill="#E69F00"/>
<circle cx="995.67" cy="123.3" r="4.0" fill="#E69F00"/>
<circle cx="995.67" cy="130.4" r="4.0" fill="#E69F00"/>
<circle cx="995.67" cy="133.9" r="4.0" fill="#E69F00"/>
<circle cx="995.67" cy="139.2" r="4.0" fill="#E69F00"/>
<circle cx="995.67" cy="139.8" r="4.0" fill="#E69F00"/>
<circle cx="995.67" cy="146.5" r="4.0" fill="#E69F00"/>
<circle cx="995.67" cy="148.5" r="4.0" fill="#E69F00"/>
<circle cx="995.67" cy="178.2" r="4.0" fill="#E69F00"/>
<circle cx="1016.09" cy="74.7" r="4.0" fill="#E69F00"/>
<circle cx="1016.09" cy="106.8" r="4.0" fill="#E69F00"/>
<circle cx="1016.09" cy="108.9" r="4.0" fill="#E69F00"/>
<circle cx="1016.09" cy="127.6" r="4.0" fill="#E69F00"/>
<circle cx="1016.09" cy="129.5" r="4.0" fill="#E69F00"/>
<circle cx="1016.09" cy="130.4" r="4.0" fill="#E69F00"/>
<circle cx="1016.09" cy="132.5" r="4.0" fill="#E69F00"/>
<circle cx="1016.09" cy="142.3" r="4.0" fill="#E69F00"/>
<circle cx="1016.09" cy="145.8" r="4.0" fill="#E69F00"/>
<circle cx="1016.09" cy="149.9" r="4.0" fill="#E69F00"/>
<circle cx="1016.09" cy="153.5" r="4.0" fill="#E69F00"/>
<circle cx="1016.09" cy="171.5" r="4.0" fill="#E69F00"/>
<circle cx="1016.09" cy="177.1" r="4.0" fill="#E69F00"/>
<circle cx="1036.51" cy="110.5" r="4.0" fill="#E69F00"/>
<circle cx="1036.51" cy="128" r="4.0" fill="#E69F00"/>
<circle cx="1036.51" cy="132.5" r="4.0" fill="#E69F00"/>
<circle cx="1036.51" cy="135" r="4.0" fill="#E69F00"/>
<circle cx="1036.51" cy="137.4" r="4.0" fill="#E69F00"/>
<circle cx="1036.51" cy="149.2" r="4.0" fill="#E69F00"/>
<circle cx="1036.51" cy="158" r="4.0" fill="#E69F00"/>
<circle cx="1036.51" cy="158.6" r="4.0" fill="#E69F00"/>
<circle cx="1036.51" cy="176.8" r="4.0" fill="#E69F00"/>
<circle cx="1036.51" cy="186" r="4.0" fill="#E69F00"/>
<circle cx="1056.93" cy="110.2" r="4.0" fill="#E69F00"/>
<circle cx="1056.93" cy="125" r="4.0" fill="#E69F00"/>
<circle cx="1056.93" cy="125.6" r="4.0" fill="#E69F00"/>
<circle cx="1056.93" cy="140.6" r="4.0" fill="#E69F00"/>
<circle cx="1056.93" cy="145.8" r="4.0" fill="#E69F00"/>
<circle cx="1056.93" cy="148.5" r="4.0" fill="#E69F00"/>
<circle cx="1056.93" cy="167" r="4.0" fill="#E69F00"/>
<circle cx="1056.93" cy="167.6" r="4.0" fill="#E69F00"/>
<circle cx="1056.93" cy="188.5" r="4.0" fill="#E69F00"/>
<circle cx="1056.93" cy="231.2" r="4.0" fill="#E69F00"/>
<circle cx="1077.35" cy="152.8" r="4.0" fill="#E69F00"/>
<circle cx="1077.35" cy="153.4" r="4.0" fill="#E69F00"/>
<circle cx="1077.35" cy="154" r="4.0" fill="#E69F00"/>
<circle cx="1077.35" cy="156.9" r="4.0" fill="#E69F00"/>
<circle cx="1077.35" cy="170.1" r="4.0" fill="#E69F00"/>
<circle cx="1077.35" cy="170.7" r="4.0" fill="#E69F00"/>
<circle cx="1077.35" cy="178.4" r="4.0" fill="#E69F00"/>
<circle cx="1077.35" cy="275" r="4.0" fill="#E69F00"/>
<circle cx="1097.77" cy="152.7" r="4.0" fill="#E69F00"/>
<circle cx="1097.77" cy="180.2" r="4.0" fill="#E69F00"/>
<circle cx="1097.77" cy="186.8" r="4.0" fill="#E69F00"/>
<circle cx="1097.77" cy="191.7" r="4.0" fill="#E69F00"/>
<circle cx="1097.77" cy="197.7" r="4.0" fill="#E69F00"/>
<circle cx="1097.77" cy="208.1" r="4.0" fill="#E69F00"/>
<circle cx="1097.77" cy="257.8" r="4.0" fill="#E69F00"/>
<circle cx="1118.19" cy="174.9" r="4.0" fill="#E69F00"/>
<circle cx="1118.19" cy="186.8" r="4.0" fill="#E69F00"/>
<circle cx="1118.19" cy="197.7" r="4.0" fill="#E69F00"/>
<circle cx="1118.19" cy="223.7" r="4.0" fill="#E69F00"/>
<circle cx="1118.19" cy="232.5" r="4.0" fill="#E69F00"/>
<circle cx="1118.19" cy="275" r="4.0" fill="#E69F00"/>
<circle cx="1138.61" cy="168.7" r="4.0" fill="#E69F00"/>
<circle cx="1138.61" cy="184.8" r="4.0" fill="#E69F00"/>
<circle cx="1138.61" cy="201.7" r="4.0" fill="#E69F00"/>
<circle cx="1138.61" cy="256.5" r="4.0" fill="#E69F00"/>
<circle cx="1138.61" cy="258.5" r="4.0" fill="#E69F00"/>
<circle cx="1159.03" cy="198.7" r="4.0" fill="#E69F00"/>
<circle cx="1159.03" cy="218.9" r="4.0" fill="#E69F00"/>
<circle cx="1159.03" cy="233.1" r="4.0" fill="#E69F00"/>
<circle cx="1159.03" cy="300.9" r="4.0" fill="#E69F00"/>
<circle cx="1179.45" cy="226.8" r="4.0" fill="#E69F00"/>
<circle cx="1179.45" cy="236.2" r="4.0" fill="#E69F00"/>
<circle cx="1179.45" cy="255.8" r="4.0" fill="#E69F00"/>
<circle cx="1199.87" cy="218.4" r="4.0" fill="#E69F00"/>
<circle cx="1199.87" cy="249.2" r="4.0" fill="#E69F00"/>
<circle cx="1220.29" cy="285.2" r="4.0" fill="#E69F00"/>
</g>
<g stroke="#000000" fill="none"><line x1="963.2" x2="963.2" y1="35.78" y2="382.8" stroke-width="0.87"/><line x1="1232.5" x2="1232.5" y1="35.78" y2="382.8" stroke-width="0.75"/><line x1="962.77" x2="1232.88" y1="36.14" y2="36.14" stroke-width="0.72"/><line x1="962.77" x2="1232.88" y1="382.5" y2="382.5" stroke-width="0.6"/></g>
<line x1="975.25" x2="975.25" y1="382.88" y2="390.4" stroke="#000" stroke-width="1"/>
<text y="418.3" font-size="24.5" fill="#000" stroke="#fff" stroke-width="0.3"><tspan x="969.38" textLength="12.95" lengthAdjust="spacingAndGlyphs">1</tspan></text>
<line x1="1056.93" x2="1056.93" y1="382.88" y2="390.4" stroke="#000" stroke-width="1"/>
<text y="418.3" font-size="24.5" fill="#000" stroke="#fff" stroke-width="0.3"><tspan x="1051.91" textLength="13.49" lengthAdjust="spacingAndGlyphs">5</tspan></text>
<line x1="1159.03" x2="1159.03" y1="382.88" y2="390.4" stroke="#000" stroke-width="1"/>
<text y="418.3" font-size="24.5" fill="#000" stroke="#fff" stroke-width="0.3"><tspan x="1145.69" textLength="26.97" lengthAdjust="spacingAndGlyphs">10</tspan></text>
<line x1="1220.29" x2="1220.29" y1="382.88" y2="390.4" stroke="#000" stroke-width="1"/>
<text y="418.3" font-size="24.5" fill="#000" stroke="#fff" stroke-width="0.3"><tspan x="1207.2" textLength="24.95" lengthAdjust="spacingAndGlyphs">13</tspan></text>
<g stroke="#ffffff" stroke-width="2.7" stroke-linejoin="round" fill-opacity="0.5">
<path d="M1242.15 65L1244.85 65L1245.02 65.63L1245.21 66.44L1245.43 67.4L1245.69 68.48L1245.97 69.64L1246.29 70.85L1246.63 72.08L1247.01 73.28L1247.41 74.44L1247.85 75.5L1248.27 76.41L1248.72 77.32L1249.19 78.22L1249.68 79.12L1250.21 80L1250.75 80.88L1251.32 81.76L1251.92 82.63L1252.54 83.49L1253.18 84.35L1253.85 85.2L1254.49 85.98L1255.14 86.75L1255.82 87.52L1256.52 88.28L1257.24 89.04L1257.97 89.79L1258.74 90.54L1259.52 91.28L1260.32 92.02L1261.14 92.75L1261.99 93.48L1262.85 94.2L1263.61 94.82L1264.39 95.43L1265.2 96.04L1266.02 96.65L1266.85 97.25L1267.7 97.85L1268.57 98.44L1269.44 99.04L1270.33 99.62L1271.22 100.21L1272.13 100.79L1273.03 101.36L1273.94 101.93L1274.85 102.5L1275.71 103.03L1276.6 103.55L1277.5 104.08L1278.42 104.6L1279.35 105.11L1280.29 105.63L1281.22 106.14L1282.16 106.65L1283.09 107.15L1284.02 107.64L1284.93 108.13L1285.82 108.61L1286.69 109.08L1287.53 109.55L1288.35 110L1289.33 110.56L1290.27 111.1L1291.19 111.64L1292.07 112.17L1292.94 112.68L1293.79 113.19L1294.63 113.68L1295.46 114.17L1296.3 114.64L1297.13 115.1L1297.98 115.56L1298.85 116L1299.8 116.46L1300.76 116.9L1301.71 117.32L1302.67 117.72L1303.62 118.11L1304.58 118.49L1305.53 118.88L1306.49 119.26L1307.44 119.66L1308.4 120.07L1309.35 120.5L1310.32 120.95L1311.3 121.4L1312.29 121.86L1313.29 122.34L1314.29 122.81L1315.28 123.29L1316.25 123.77L1317.2 124.26L1318.12 124.74L1319.01 125.22L1319.85 125.7L1320.84 126.29L1321.8 126.89L1322.74 127.49L1323.64 128.09L1324.49 128.69L1325.29 129.29L1326.04 129.87L1326.73 130.45L1327.35 131L1328.31 131.95L1329.09 132.86L1329.69 133.74L1330.11 134.61L1330.35 135.5L1330.4 136.55L1330.16 137.56L1329.65 138.66L1328.85 140L1328.39 140.7L1327.85 141.45L1327.24 142.25L1326.57 143.09L1325.87 143.95L1325.13 144.84L1324.37 145.73L1323.61 146.62L1322.85 147.5L1322.23 148.21L1321.6 148.93L1320.95 149.64L1320.3 150.36L1319.63 151.09L1318.95 151.83L1318.25 152.57L1317.54 153.33L1316.83 154.1L1316.09 154.89L1315.35 155.7L1314.71 156.4L1314.05 157.13L1313.38 157.87L1312.69 158.62L1312 159.39L1311.3 160.16L1310.59 160.94L1309.88 161.72L1309.17 162.49L1308.46 163.26L1307.75 164.02L1307.05 164.77L1306.35 165.5L1305.6 166.28L1304.86 167.05L1304.12 167.81L1303.38 168.57L1302.64 169.32L1301.9 170.07L1301.16 170.81L1300.41 171.55L1299.66 172.29L1298.9 173.03L1298.13 173.76L1297.35 174.5L1296.61 175.19L1295.86 175.88L1295.08 176.58L1294.29 177.28L1293.5 177.98L1292.7 178.67L1291.91 179.36L1291.13 180.04L1290.36 180.71L1289.62 181.36L1288.89 182L1288.2 182.61L1287.55 183.2L1286.67 184L1285.87 184.74L1285.12 185.43L1284.4 186.1L1283.71 186.75L1283.03 187.4L1282.33 188.07L1281.61 188.76L1280.85 189.5L1280.13 190.19L1279.4 190.9L1278.66 191.61L1277.91 192.34L1277.15 193.08L1276.39 193.83L1275.63 194.6L1274.86 195.38L1274.1 196.18L1273.35 197L1272.67 197.76L1271.99 198.55L1271.3 199.35L1270.62 200.16L1269.94 200.99L1269.26 201.82L1268.58 202.66L1267.9 203.5L1267.21 204.34L1266.53 205.18L1265.85 206L1265.16 206.82L1264.45 207.66L1263.72 208.5L1263 209.34L1262.27 210.18L1261.56 211.01L1260.86 211.84L1260.18 212.65L1259.53 213.45L1258.92 214.24L1258.35 215L1257.63 216.01L1256.98 216.98L1256.38 217.92L1255.82 218.84L1255.3 219.75L1254.8 220.66L1254.32 221.57L1253.85 222.5L1253.39 223.43L1252.96 224.34L1252.55 225.25L1252.16 226.16L1251.8 227.08L1251.46 228.02L1251.14 228.99L1250.85 230L1250.61 230.93L1250.39 231.9L1250.19 232.89L1250.01 233.9L1249.85 234.92L1249.71 235.94L1249.57 236.97L1249.46 237.99L1249.35 239L1249.27 240L1249.21 241L1249.18 242L1249.17 243L1249.16 244L1249.15 245L1249.13 246L1249.1 247L1249.05 248L1248.98 248.99L1248.91 249.97L1248.83 250.94L1248.74 251.92L1248.64 252.9L1248.54 253.89L1248.42 254.9L1248.29 255.93L1248.15 257L1248.01 258L1247.84 259.03L1247.67 260.09L1247.48 261.16L1247.29 262.25L1247.09 263.34L1246.9 264.41L1246.71 265.47L1246.52 266.5L1246.35 267.5L1246.16 268.62L1245.97 269.77L1245.77 270.94L1245.58 272.1L1245.4 273.2L1245.23 274.22L1245.08 275.13L1244.95 275.9L1244.85 276.5L1242.15 276.5Z" fill="#000000"/>
<path d="M1242.15 51.5L1244.85 51.5L1244.93 52.13L1245.03 52.95L1245.14 53.93L1245.27 55.02L1245.41 56.19L1245.57 57.4L1245.74 58.63L1245.93 59.83L1246.13 60.96L1246.35 62L1246.6 63.07L1246.86 64.1L1247.13 65.11L1247.42 66.1L1247.73 67.08L1248.07 68.06L1248.45 69.03L1248.88 70.01L1249.35 71L1249.82 71.9L1250.31 72.8L1250.83 73.7L1251.39 74.6L1251.97 75.5L1252.59 76.4L1253.23 77.3L1253.91 78.2L1254.61 79.1L1255.35 80L1255.99 80.75L1256.64 81.49L1257.32 82.23L1258.02 82.97L1258.74 83.71L1259.47 84.46L1260.24 85.2L1261.02 85.95L1261.82 86.7L1262.64 87.46L1263.49 88.23L1264.35 89L1265.07 89.63L1265.82 90.28L1266.61 90.93L1267.41 91.59L1268.24 92.26L1269.08 92.94L1269.93 93.61L1270.77 94.28L1271.62 94.94L1272.46 95.6L1273.29 96.25L1274.09 96.89L1274.88 97.51L1275.63 98.12L1276.35 98.7L1277.29 99.47L1278.2 100.22L1279.09 100.96L1279.95 101.67L1280.78 102.36L1281.6 103.04L1282.39 103.71L1283.16 104.35L1283.91 104.98L1284.64 105.6L1285.35 106.2L1286.3 107L1287.2 107.78L1288.06 108.52L1288.88 109.24L1289.67 109.92L1290.23 110.58L1290.74 111.2L1291.24 111.8L1291.99 112.64L1292.69 113.35L1293.33 114.02L1294.16 114.71L1295 115.5L1295.71 116.23L1296.43 117L1297.12 117.79L1297.8 118.64L1298.43 119.54L1299 120.5L1299.45 121.4L1299.87 122.37L1300.26 123.39L1300.62 124.43L1300.95 125.48L1301.24 126.51L1301.5 127.5L1301.76 128.62L1301.97 129.72L1302.14 130.81L1302.27 131.89L1302.36 132.95L1302.4 134L1302.4 135.03L1302.36 136.06L1302.28 137.06L1302.15 138.06L1301.99 139.03L1301.8 140L1301.52 141.12L1301.2 142.19L1300.82 143.25L1300.38 144.34L1299.9 145.5L1299.52 146.35L1299.1 147.21L1298.65 148.08L1298.17 148.99L1297.69 149.93L1297.19 150.93L1296.7 152L1296.31 152.89L1295.91 153.83L1295.51 154.81L1295.1 155.83L1294.68 156.86L1294.26 157.91L1293.84 158.95L1293.42 159.99L1293 161L1292.58 162L1292.16 163.02L1291.74 164.03L1291.31 165.04L1290.89 166.05L1290.46 167.06L1290.04 168.05L1289.62 169.04L1289.2 170L1288.74 171.07L1288.29 172.14L1287.84 173.2L1287.39 174.24L1286.94 175.26L1286.48 176.27L1286 177.25L1285.5 178.2L1284.99 179.1L1284.47 179.95L1283.94 180.76L1283.58 181.55L1283.29 182.35L1282.98 183.18L1282.67 184.05L1282.35 185L1281.81 185.81L1281.25 186.66L1280.66 187.54L1280.06 188.44L1279.44 189.36L1278.82 190.29L1278.2 191.23L1277.57 192.16L1276.96 193.09L1276.35 194L1275.74 194.9L1275.11 195.8L1274.48 196.7L1273.84 197.6L1273.21 198.5L1272.59 199.4L1271.99 200.3L1271.41 201.2L1270.86 202.1L1270.35 203L1269.82 204L1269.33 205L1268.86 206L1268.42 207L1268.01 208L1267.62 209L1267.24 210L1266.89 211L1266.55 212L1266.23 213L1265.93 214L1265.66 215L1265.41 216L1265.17 217L1264.95 218L1264.74 219L1264.54 220L1264.35 221L1264.17 222L1264.01 223L1263.87 224L1263.74 225L1263.62 226L1263.51 227L1263.39 228L1263.27 229L1263.15 230L1263.03 230.99L1262.92 231.97L1262.82 232.94L1262.71 233.92L1262.61 234.9L1262.49 235.89L1262.37 236.9L1262.22 237.93L1262.05 239L1261.88 239.99L1261.69 241L1261.5 242.04L1261.29 243.09L1261.07 244.16L1260.84 245.23L1260.6 246.3L1260.36 247.38L1260.11 248.44L1259.85 249.5L1259.58 250.55L1259.3 251.6L1259.01 252.65L1258.71 253.7L1258.4 254.75L1258.09 255.8L1257.78 256.85L1257.46 257.9L1257.15 258.95L1256.85 260L1256.55 261.05L1256.24 262.1L1255.93 263.15L1255.63 264.2L1255.32 265.25L1255.01 266.3L1254.71 267.35L1254.42 268.4L1254.13 269.45L1253.85 270.5L1253.58 271.54L1253.32 272.56L1253.06 273.57L1252.81 274.58L1252.57 275.59L1252.33 276.62L1252.08 277.67L1251.84 278.74L1251.6 279.85L1251.35 281L1251.16 281.91L1250.97 282.85L1250.77 283.8L1250.58 284.77L1250.39 285.75L1250.2 286.75L1250 287.76L1249.81 288.78L1249.62 289.81L1249.43 290.85L1249.23 291.89L1249.04 292.94L1248.85 294L1248.67 295L1248.48 296.02L1248.3 297.07L1248.11 298.13L1247.92 299.2L1247.73 300.28L1247.54 301.36L1247.35 302.44L1247.17 303.5L1246.99 304.55L1246.82 305.58L1246.65 306.59L1246.5 307.56L1246.35 308.5L1246.17 309.68L1246 310.89L1245.83 312.1L1245.67 313.29L1245.52 314.45L1245.37 315.55L1245.24 316.59L1245.12 317.54L1245.02 318.39L1244.93 319.11L1244.85 319.7L1242.15 319.7Z" fill="#E69F00"/>
</g>
</g>
<g id="panel4">
<text y="21.2" font-size="28.3" fill="#000" stroke="#fff" stroke-width="0.3"><tspan x="1373.19" textLength="109.2" lengthAdjust="spacingAndGlyphs">Quantity</tspan> <tspan x="1489.58" textLength="181.4" lengthAdjust="spacingAndGlyphs">discrimination</tspan></text>
<g fill-opacity="0.5">
<circle cx="1399.55" cy="138" r="4.0" fill="#000000"/>
<circle cx="1399.55" cy="138.6" r="4.0" fill="#000000"/>
<circle cx="1399.55" cy="143" r="4.0" fill="#000000"/>
<circle cx="1399.55" cy="146.1" r="4.0" fill="#000000"/>
<circle cx="1399.55" cy="149.5" r="4.0" fill="#000000"/>
<circle cx="1399.55" cy="163.5" r="4.0" fill="#000000"/>
<circle cx="1399.55" cy="174.6" r="4.0" fill="#000000"/>
<circle cx="1399.55" cy="187.1" r="4.0" fill="#000000"/>
<circle cx="1399.55" cy="197.3" r="4.0" fill="#000000"/>
<circle cx="1399.55" cy="200.4" r="4.0" fill="#000000"/>
<circle cx="1399.55" cy="204" r="4.0" fill="#000000"/>
<circle cx="1399.55" cy="212.6" r="4.0" fill="#000000"/>
<circle cx="1399.55" cy="235.9" r="4.0" fill="#000000"/>
<circle cx="1399.55" cy="265.4" r="4.0" fill="#000000"/>
<circle cx="1419.97" cy="121" r="4.0" fill="#000000"/>
<circle cx="1419.97" cy="139.5" r="4.0" fill="#000000"/>
<circle cx="1419.97" cy="143.3" r="4.0" fill="#000000"/>
<circle cx="1419.97" cy="147.5" r="4.0" fill="#000000"/>
<circle cx="1419.97" cy="150.9" r="4.0" fill="#000000"/>
<circle cx="1419.97" cy="200.8" r="4.0" fill="#000000"/>
<circle cx="1419.97" cy="209.8" r="4.0" fill="#000000"/>
<circle cx="1419.97" cy="216" r="4.0" fill="#000000"/>
<circle cx="1419.97" cy="230.3" r="4.0" fill="#000000"/>
<circle cx="1419.97" cy="232.8" r="4.0" fill="#000000"/>
<circle cx="1419.97" cy="233.4" r="4.0" fill="#000000"/>
<circle cx="1419.97" cy="236.2" r="4.0" fill="#000000"/>
<circle cx="1419.97" cy="244" r="4.0" fill="#000000"/>
<circle cx="1440.39" cy="140.6" r="4.0" fill="#000000"/>
<circle cx="1440.39" cy="164.9" r="4.0" fill="#000000"/>
<circle cx="1440.39" cy="171" r="4.0" fill="#000000"/>
<circle cx="1440.39" cy="179.2" r="4.0" fill="#000000"/>
<circle cx="1440.39" cy="188.3" r="4.0" fill="#000000"/>
<circle cx="1440.39" cy="196.5" r="4.0" fill="#000000"/>
<circle cx="1440.39" cy="217.6" r="4.0" fill="#000000"/>
<circle cx="1440.39" cy="258.2" r="4.0" fill="#000000"/>
<circle cx="1440.39" cy="263.1" r="4.0" fill="#000000"/>
<circle cx="1440.39" cy="263.7" r="4.0" fill="#000000"/>
<circle cx="1460.81" cy="159.3" r="4.0" fill="#000000"/>
<circle cx="1460.81" cy="159.9" r="4.0" fill="#000000"/>
<circle cx="1460.81" cy="183.4" r="4.0" fill="#000000"/>
<circle cx="1460.81" cy="193.4" r="4.0" fill="#000000"/>
<circle cx="1460.81" cy="205.2" r="4.0" fill="#000000"/>
<circle cx="1460.81" cy="227.5" r="4.0" fill="#000000"/>
<circle cx="1460.81" cy="236.2" r="4.0" fill="#000000"/>
<circle cx="1460.81" cy="279.5" r="4.0" fill="#000000"/>
<circle cx="1460.81" cy="286" r="4.0" fill="#000000"/>
<circle cx="1460.81" cy="342.1" r="4.0" fill="#000000"/>
<circle cx="1481.23" cy="129.5" r="4.0" fill="#000000"/>
<circle cx="1481.23" cy="176.7" r="4.0" fill="#000000"/>
<circle cx="1481.23" cy="182.8" r="4.0" fill="#000000"/>
<circle cx="1481.23" cy="185.8" r="4.0" fill="#000000"/>
<circle cx="1481.23" cy="189.9" r="4.0" fill="#000000"/>
<circle cx="1481.23" cy="193.4" r="4.0" fill="#000000"/>
<circle cx="1481.23" cy="205.2" r="4.0" fill="#000000"/>
<circle cx="1481.23" cy="286.4" r="4.0" fill="#000000"/>
<circle cx="1481.23" cy="362.7" r="4.0" fill="#000000"/>
<circle cx="1501.65" cy="159.7" r="4.0" fill="#000000"/>
<circle cx="1501.65" cy="190.3" r="4.0" fill="#000000"/>
<circle cx="1501.65" cy="196.5" r="4.0" fill="#000000"/>
<circle cx="1501.65" cy="210.1" r="4.0" fill="#000000"/>
<circle cx="1501.65" cy="215.6" r="4.0" fill="#000000"/>
<circle cx="1501.65" cy="238.4" r="4.0" fill="#000000"/>
<circle cx="1501.65" cy="251.9" r="4.0" fill="#000000"/>
<circle cx="1501.65" cy="352.7" r="4.0" fill="#000000"/>
<circle cx="1522.07" cy="169.9" r="4.0" fill="#000000"/>
<circle cx="1522.07" cy="193.4" r="4.0" fill="#000000"/>
<circle cx="1522.07" cy="232.2" r="4.0" fill="#000000"/>
<circle cx="1522.07" cy="232.8" r="4.0" fill="#000000"/>
<circle cx="1522.07" cy="268.8" r="4.0" fill="#000000"/>
<circle cx="1522.07" cy="299.9" r="4.0" fill="#000000"/>
<circle cx="1542.49" cy="140.1" r="4.0" fill="#000000"/>
<circle cx="1542.49" cy="204" r="4.0" fill="#000000"/>
<circle cx="1542.49" cy="225" r="4.0" fill="#000000"/>
<circle cx="1542.49" cy="242.8" r="4.0" fill="#000000"/>
<circle cx="1542.49" cy="250.8" r="4.0" fill="#000000"/>
<circle cx="1542.49" cy="277.5" r="4.0" fill="#000000"/>
<circle cx="1562.91" cy="141.2" r="4.0" fill="#000000"/>
<circle cx="1562.91" cy="177.7" r="4.0" fill="#000000"/>
<circle cx="1562.91" cy="226.4" r="4.0" fill="#000000"/>
<circle cx="1562.91" cy="232" r="4.0" fill="#000000"/>
<circle cx="1562.91" cy="240.8" r="4.0" fill="#000000"/>
<circle cx="1583.33" cy="156.5" r="4.0" fill="#000000"/>
<circle cx="1583.33" cy="228.5" r="4.0" fill="#000000"/>
<circle cx="1583.33" cy="249.2" r="4.0" fill="#000000"/>
<circle cx="1583.33" cy="259" r="4.0" fill="#000000"/>
<circle cx="1603.75" cy="229.6" r="4.0" fill="#000000"/>
<circle cx="1603.75" cy="261.8" r="4.0" fill="#000000"/>
<circle cx="1603.75" cy="272.2" r="4.0" fill="#000000"/>
<circle cx="1624.17" cy="192" r="4.0" fill="#000000"/>
<circle cx="1624.17" cy="270.9" r="4.0" fill="#000000"/>
<circle cx="1644.59" cy="328.3" r="4.0" fill="#000000"/>
<circle cx="1399.55" cy="129.4" r="4.0" fill="#E69F00"/>
<circle cx="1399.55" cy="138.4" r="4.0" fill="#E69F00"/>
<circle cx="1399.55" cy="146.1" r="4.0" fill="#E69F00"/>
<circle cx="1399.55" cy="153.7" r="4.0" fill="#E69F00"/>
<circle cx="1399.55" cy="167.9" r="4.0" fill="#E69F00"/>
<circle cx="1399.55" cy="172.5" r="4.0" fill="#E69F00"/>
<circle cx="1399.55" cy="174.6" r="4.0" fill="#E69F00"/>
<circle cx="1399.55" cy="184.4" r="4.0" fill="#E69F00"/>
<circle cx="1399.55" cy="186.7" r="4.0" fill="#E69F00"/>
<circle cx="1399.55" cy="205.2" r="4.0" fill="#E69F00"/>
<circle cx="1399.55" cy="214.8" r="4.0" fill="#E69F00"/>
<circle cx="1399.55" cy="237.8" r="4.0" fill="#E69F00"/>
<circle cx="1399.55" cy="267.6" r="4.0" fill="#E69F00"/>
<circle cx="1399.55" cy="306.9" r="4.0" fill="#E69F00"/>
<circle cx="1419.97" cy="115.4" r="4.0" fill="#E69F00"/>
<circle cx="1419.97" cy="147.5" r="4.0" fill="#E69F00"/>
<circle cx="1419.97" cy="150.9" r="4.0" fill="#E69F00"/>
<circle cx="1419.97" cy="163.1" r="4.0" fill="#E69F00"/>
<circle cx="1419.97" cy="163.7" r="4.0" fill="#E69F00"/>
<circle cx="1419.97" cy="176.7" r="4.0" fill="#E69F00"/>
<circle cx="1419.97" cy="196.5" r="4.0" fill="#E69F00"/>
<circle cx="1419.97" cy="201.1" r="4.0" fill="#E69F00"/>
<circle cx="1419.97" cy="222" r="4.0" fill="#E69F00"/>
<circle cx="1419.97" cy="225" r="4.0" fill="#E69F00"/>
<circle cx="1419.97" cy="230.3" r="4.0" fill="#E69F00"/>
<circle cx="1419.97" cy="266.8" r="4.0" fill="#E69F00"/>
<circle cx="1440.39" cy="134.2" r="4.0" fill="#E69F00"/>
<circle cx="1440.39" cy="162.4" r="4.0" fill="#E69F00"/>
<circle cx="1440.39" cy="164.9" r="4.0" fill="#E69F00"/>
<circle cx="1440.39" cy="168.6" r="4.0" fill="#E69F00"/>
<circle cx="1440.39" cy="196.5" r="4.0" fill="#E69F00"/>
<circle cx="1440.39" cy="208.4" r="4.0" fill="#E69F00"/>
<circle cx="1440.39" cy="209" r="4.0" fill="#E69F00"/>
<circle cx="1440.39" cy="212.2" r="4.0" fill="#E69F00"/>
<circle cx="1440.39" cy="217.2" r="4.0" fill="#E69F00"/>
<circle cx="1440.39" cy="217.8" r="4.0" fill="#E69F00"/>
<circle cx="1440.39" cy="246.2" r="4.0" fill="#E69F00"/>
<circle cx="1440.39" cy="246.8" r="4.0" fill="#E69F00"/>
<circle cx="1460.81" cy="180.9" r="4.0" fill="#E69F00"/>
<circle cx="1460.81" cy="183" r="4.0" fill="#E69F00"/>
<circle cx="1460.81" cy="198.4" r="4.0" fill="#E69F00"/>
<circle cx="1460.81" cy="199" r="4.0" fill="#E69F00"/>
<circle cx="1460.81" cy="207.6" r="4.0" fill="#E69F00"/>
<circle cx="1460.81" cy="230.7" r="4.0" fill="#E69F00"/>
<circle cx="1460.81" cy="231.3" r="4.0" fill="#E69F00"/>
<circle cx="1460.81" cy="235.5" r="4.0" fill="#E69F00"/>
<circle cx="1460.81" cy="242.4" r="4.0" fill="#E69F00"/>
<circle cx="1460.81" cy="283.9" r="4.0" fill="#E69F00"/>
<circle cx="1481.23" cy="146.8" r="4.0" fill="#E69F00"/>
<circle cx="1481.23" cy="167.2" r="4.0" fill="#E69F00"/>
<circle cx="1481.23" cy="176.7" r="4.0" fill="#E69F00"/>
<circle cx="1481.23" cy="221" r="4.0" fill="#E69F00"/>
<circle cx="1481.23" cy="232.1" r="4.0" fill="#E69F00"/>
<circle cx="1481.23" cy="247.1" r="4.0" fill="#E69F00"/>
<circle cx="1481.23" cy="247.7" r="4.0" fill="#E69F00"/>
<circle cx="1481.23" cy="255.8" r="4.0" fill="#E69F00"/>
<circle cx="1481.23" cy="273.8" r="4.0" fill="#E69F00"/>
<circle cx="1501.65" cy="180.9" r="4.0" fill="#E69F00"/>
<circle cx="1501.65" cy="185.1" r="4.0" fill="#E69F00"/>
<circle cx="1501.65" cy="190.3" r="4.0" fill="#E69F00"/>
<circle cx="1501.65" cy="245.3" r="4.0" fill="#E69F00"/>
<circle cx="1501.65" cy="256.8" r="4.0" fill="#E69F00"/>
<circle cx="1501.65" cy="259.5" r="4.0" fill="#E69F00"/>
<circle cx="1501.65" cy="272.3" r="4.0" fill="#E69F00"/>
<circle cx="1501.65" cy="307" r="4.0" fill="#E69F00"/>
<circle cx="1522.07" cy="206.5" r="4.0" fill="#E69F00"/>
<circle cx="1522.07" cy="232.4" r="4.0" fill="#E69F00"/>
<circle cx="1522.07" cy="257.7" r="4.0" fill="#E69F00"/>
<circle cx="1522.07" cy="264.8" r="4.0" fill="#E69F00"/>
<circle cx="1522.07" cy="265.4" r="4.0" fill="#E69F00"/>
<circle cx="1522.07" cy="268" r="4.0" fill="#E69F00"/>
<circle cx="1522.07" cy="295.5" r="4.0" fill="#E69F00"/>
<circle cx="1542.49" cy="182.3" r="4.0" fill="#E69F00"/>
<circle cx="1542.49" cy="187.6" r="4.0" fill="#E69F00"/>
<circle cx="1542.49" cy="212.3" r="4.0" fill="#E69F00"/>
<circle cx="1542.49" cy="212.9" r="4.0" fill="#E69F00"/>
<circle cx="1542.49" cy="242.8" r="4.0" fill="#E69F00"/>
<circle cx="1542.49" cy="274.4" r="4.0" fill="#E69F00"/>
<circle cx="1562.91" cy="142.9" r="4.0" fill="#E69F00"/>
<circle cx="1562.91" cy="170.4" r="4.0" fill="#E69F00"/>
<circle cx="1562.91" cy="212.3" r="4.0" fill="#E69F00"/>
<circle cx="1562.91" cy="224" r="4.0" fill="#E69F00"/>
<circle cx="1562.91" cy="283.9" r="4.0" fill="#E69F00"/>
<circle cx="1583.33" cy="138.8" r="4.0" fill="#E69F00"/>
<circle cx="1583.33" cy="139.5" r="4.0" fill="#E69F00"/>
<circle cx="1583.33" cy="215.9" r="4.0" fill="#E69F00"/>
<circle cx="1583.33" cy="292.3" r="4.0" fill="#E69F00"/>
<circle cx="1603.75" cy="202.7" r="4.0" fill="#E69F00"/>
<circle cx="1603.75" cy="229.6" r="4.0" fill="#E69F00"/>
<circle cx="1603.75" cy="232.4" r="4.0" fill="#E69F00"/>
<circle cx="1624.17" cy="186.7" r="4.0" fill="#E69F00"/>
<circle cx="1624.17" cy="215.6" r="4.0" fill="#E69F00"/>
<circle cx="1644.59" cy="189.2" r="4.0" fill="#E69F00"/>
</g>
<g stroke="#000000" fill="none"><line x1="1387.5" x2="1387.5" y1="35.78" y2="382.8" stroke-width="0.5"/><line x1="1656.5" x2="1656.5" y1="35.78" y2="382.8" stroke-width="0.66"/><line x1="1387.25" x2="1656.83" y1="36.14" y2="36.14" stroke-width="0.72"/><line x1="1387.25" x2="1656.83" y1="382.5" y2="382.5" stroke-width="0.6"/></g>
<line x1="1399.55" x2="1399.55" y1="382.88" y2="390.4" stroke="#000" stroke-width="1"/>
<text y="418.3" font-size="24.5" fill="#000" stroke="#fff" stroke-width="0.3"><tspan x="1393.68" textLength="12.95" lengthAdjust="spacingAndGlyphs">1</tspan></text>
<line x1="1481.23" x2="1481.23" y1="382.88" y2="390.4" stroke="#000" stroke-width="1"/>
<text y="418.3" font-size="24.5" fill="#000" stroke="#fff" stroke-width="0.3"><tspan x="1476.21" textLength="13.49" lengthAdjust="spacingAndGlyphs">5</tspan></text>
<line x1="1583.33" x2="1583.33" y1="382.88" y2="390.4" stroke="#000" stroke-width="1"/>
<text y="418.3" font-size="24.5" fill="#000" stroke="#fff" stroke-width="0.3"><tspan x="1569.99" textLength="26.97" lengthAdjust="spacingAndGlyphs">10</tspan></text>
<line x1="1644.59" x2="1644.59" y1="382.88" y2="390.4" stroke="#000" stroke-width="1"/>
<text y="418.3" font-size="24.5" fill="#000" stroke="#fff" stroke-width="0.3"><tspan x="1631.5" textLength="24.95" lengthAdjust="spacingAndGlyphs">13</tspan></text>
<g stroke="#ffffff" stroke-width="2.7" stroke-linejoin="round" fill-opacity="0.5">
<path d="M1666.85 96L1669.55 96L1669.64 96.61L1669.75 97.4L1669.87 98.32L1670.01 99.36L1670.16 100.49L1670.34 101.66L1670.55 102.86L1670.78 104.06L1671.05 105.21L1671.35 106.3L1671.66 107.26L1671.99 108.23L1672.35 109.21L1672.74 110.2L1673.15 111.18L1673.58 112.17L1674.03 113.14L1674.49 114.11L1674.97 115.06L1675.45 115.99L1675.95 116.9L1676.48 117.8L1677.05 118.71L1677.65 119.63L1678.28 120.53L1678.91 121.43L1679.55 122.29L1680.18 123.13L1680.78 123.93L1681.35 124.68L1681.88 125.37L1682.35 126L1683.17 127.12L1683.79 127.94L1684.32 128.61L1684.9 129.25L1685.65 130L1686.32 130.6L1687.08 131.19L1687.88 131.79L1688.71 132.41L1689.55 133.05L1690.37 133.75L1691.15 134.5L1691.82 135.23L1692.5 136.04L1693.18 136.9L1693.84 137.78L1694.49 138.66L1695.09 139.5L1695.65 140.29L1696.15 141L1696.96 142.19L1697.58 143.19L1698.08 144.09L1698.55 145L1699.14 146.17L1699.61 147.28L1699.95 148.5L1700.02 149.5L1699.96 150.53L1699.94 151.68L1700.15 153L1700.4 153.84L1700.7 154.73L1701.06 155.67L1701.47 156.66L1701.94 157.71L1702.47 158.82L1703.05 160L1703.47 160.79L1703.93 161.62L1704.43 162.47L1704.96 163.35L1705.51 164.26L1706.08 165.18L1706.64 166.13L1707.2 167.08L1707.74 168.05L1708.26 169.02L1708.75 170L1709.18 170.91L1709.6 171.84L1710.01 172.79L1710.42 173.76L1710.83 174.74L1711.22 175.72L1711.6 176.7L1711.98 177.69L1712.34 178.66L1712.69 179.62L1713.03 180.57L1713.35 181.5L1713.72 182.59L1714.08 183.66L1714.41 184.72L1714.74 185.77L1715.04 186.81L1715.33 187.85L1715.61 188.88L1715.87 189.92L1716.12 190.95L1716.35 192L1716.56 193.05L1716.76 194.1L1716.94 195.15L1717.1 196.2L1717.24 197.25L1717.38 198.3L1717.51 199.35L1717.63 200.4L1717.74 201.45L1717.85 202.5L1717.96 203.57L1718.05 204.67L1718.14 205.79L1718.22 206.92L1718.29 208.03L1718.36 209.12L1718.42 210.18L1718.47 211.19L1718.51 212.13L1718.55 213L1718.6 214.23L1718.63 215.22L1718.64 216.09L1718.63 216.94L1718.6 217.88L1718.55 219L1718.52 219.87L1718.49 220.8L1718.45 221.78L1718.41 222.79L1718.36 223.84L1718.28 224.89L1718.17 225.94L1718.03 226.98L1717.85 228L1717.63 228.99L1717.37 229.97L1717.08 230.94L1716.76 231.92L1716.41 232.9L1716.05 233.89L1715.66 234.9L1715.26 235.93L1714.85 237L1714.5 237.89L1714.14 238.8L1713.77 239.71L1713.39 240.64L1712.99 241.59L1712.58 242.54L1712.16 243.51L1711.73 244.49L1711.28 245.48L1710.82 246.48L1710.35 247.5L1709.94 248.38L1709.51 249.28L1709.07 250.2L1708.61 251.13L1708.15 252.07L1707.68 253.02L1707.21 253.98L1706.73 254.93L1706.25 255.87L1705.77 256.8L1705.29 257.72L1704.82 258.62L1704.35 259.5L1703.86 260.42L1703.39 261.32L1702.94 262.2L1702.49 263.06L1702.04 263.91L1701.59 264.75L1701.12 265.59L1700.63 266.44L1700.12 267.3L1699.57 268.18L1698.98 269.08L1698.35 270L1697.8 270.76L1697.22 271.52L1696.6 272.3L1695.95 273.09L1695.29 273.89L1694.6 274.69L1693.91 275.5L1693.2 276.31L1692.5 277.13L1691.8 277.94L1691.11 278.76L1690.44 279.58L1689.78 280.39L1689.15 281.2L1688.55 282L1687.93 282.86L1687.32 283.71L1686.73 284.57L1686.14 285.43L1685.57 286.29L1685 287.14L1684.45 288L1683.91 288.86L1683.37 289.71L1682.85 290.57L1682.34 291.43L1681.83 292.29L1681.34 293.14L1680.85 294L1680.34 294.92L1679.83 295.85L1679.34 296.77L1678.86 297.69L1678.39 298.62L1677.93 299.54L1677.48 300.46L1677.04 301.38L1676.62 302.31L1676.21 303.23L1675.81 304.15L1675.42 305.08L1675.05 306L1674.66 307L1674.29 308.02L1673.93 309.04L1673.59 310.06L1673.26 311.08L1672.95 312.09L1672.65 313.11L1672.36 314.11L1672.09 315.11L1671.83 316.09L1671.59 317.05L1671.35 318L1671.08 319.15L1670.81 320.32L1670.56 321.51L1670.32 322.69L1670.11 323.84L1669.92 324.95L1669.77 325.99L1669.65 326.94L1669.58 327.78L1669.55 328.5L1669.88 329.8L1670.62 330.2L1671.35 331L1671.67 331.77L1672 332.67L1672.33 333.66L1672.65 334.72L1672.93 335.84L1673.15 337L1673.28 337.9L1673.39 338.86L1673.47 339.85L1673.53 340.88L1673.58 341.91L1673.61 342.95L1673.63 343.99L1673.65 345L1673.65 346L1673.64 347L1673.62 348L1673.58 349L1673.53 350L1673.48 351L1673.42 352L1673.35 353L1673.28 354.01L1673.2 355.05L1673.12 356.09L1673.03 357.12L1672.93 358.15L1672.82 359.14L1672.69 360.1L1672.55 361L1672.33 362.15L1672.07 363.26L1671.79 364.31L1671.5 365.3L1671.21 366.2L1670.95 367L1670.42 368.33L1669.91 369.33L1669.55 370L1666.85 370Z" fill="#000000"/>
<path d="M1666.85 96L1669.55 96L1669.64 96.62L1669.75 97.43L1669.87 98.38L1670.01 99.44L1670.17 100.59L1670.35 101.8L1670.55 103.02L1670.79 104.23L1671.05 105.4L1671.35 106.5L1671.65 107.45L1671.96 108.41L1672.3 109.36L1672.66 110.32L1673.04 111.27L1673.45 112.23L1673.88 113.18L1674.33 114.14L1674.81 115.09L1675.32 116.05L1675.85 117L1676.37 117.88L1676.93 118.75L1677.51 119.62L1678.13 120.5L1678.76 121.38L1679.41 122.25L1680.07 123.12L1680.74 124L1681.4 124.88L1682.07 125.75L1682.72 126.62L1683.35 127.5L1683.98 128.38L1684.62 129.25L1685.26 130.12L1685.91 131L1686.55 131.88L1687.19 132.75L1687.83 133.62L1688.46 134.5L1689.08 135.38L1689.69 136.25L1690.28 137.12L1690.85 138L1691.4 138.87L1691.93 139.73L1692.44 140.59L1692.94 141.44L1693.43 142.3L1693.91 143.16L1694.39 144.02L1694.87 144.89L1695.35 145.77L1695.84 146.66L1696.34 147.57L1696.85 148.5L1697.33 149.37L1697.8 150.23L1698.27 151.11L1698.75 151.98L1699.22 152.87L1699.7 153.77L1700.19 154.67L1700.68 155.6L1701.19 156.54L1701.7 157.5L1702.23 158.47L1702.78 159.47L1703.35 160.5L1703.8 161.31L1704.26 162.14L1704.74 162.99L1705.23 163.85L1705.73 164.74L1706.24 165.63L1706.76 166.54L1707.28 167.45L1707.8 168.36L1708.32 169.28L1708.84 170.2L1709.36 171.11L1709.88 172.01L1710.38 172.9L1710.88 173.79L1711.37 174.65L1711.85 175.5L1712.39 176.45L1712.92 177.4L1713.46 178.34L1714 179.29L1714.54 180.22L1715.07 181.15L1715.59 182.07L1716.11 182.99L1716.61 183.89L1717.11 184.78L1717.59 185.65L1718.06 186.52L1718.51 187.36L1718.94 188.19L1719.35 189L1719.88 190.07L1720.38 191.11L1720.86 192.12L1721.3 193.1L1721.73 194.06L1722.13 195L1722.51 195.92L1722.87 196.83L1723.21 197.72L1723.54 198.61L1723.85 199.5L1724.21 200.59L1724.54 201.67L1724.84 202.74L1725.11 203.79L1725.35 204.82L1725.56 205.81L1725.75 206.76L1725.91 207.66L1726.05 208.5L1726.21 209.83L1726.28 210.96L1726.26 211.98L1726.18 212.97L1726.05 214L1725.88 215.02L1725.66 215.97L1725.38 216.94L1725.01 218.03L1724.55 219.3L1724.25 220.1L1723.92 220.94L1723.56 221.83L1723.18 222.75L1722.77 223.72L1722.34 224.73L1721.87 225.78L1721.37 226.87L1720.85 228L1720.46 228.81L1720.05 229.66L1719.62 230.54L1719.17 231.45L1718.71 232.38L1718.23 233.32L1717.75 234.27L1717.26 235.23L1716.77 236.2L1716.28 237.16L1715.8 238.12L1715.32 239.07L1714.85 240L1714.39 240.92L1713.93 241.85L1713.47 242.77L1713 243.69L1712.54 244.62L1712.08 245.54L1711.62 246.46L1711.16 247.38L1710.7 248.31L1710.23 249.23L1709.77 250.15L1709.31 251.08L1708.85 252L1708.39 252.93L1707.92 253.87L1707.46 254.82L1706.99 255.77L1706.52 256.73L1706.05 257.68L1705.59 258.63L1705.12 259.57L1704.66 260.49L1704.2 261.4L1703.75 262.29L1703.3 263.16L1702.85 264L1702.28 265.06L1701.73 266.08L1701.18 267.07L1700.64 268.03L1700.1 268.97L1699.56 269.89L1699.02 270.8L1698.47 271.7L1697.92 272.6L1697.35 273.5L1696.78 274.37L1696.21 275.21L1695.65 276.01L1695.08 276.8L1694.51 277.59L1693.92 278.4L1693.31 279.22L1692.69 280.09L1692.03 281.01L1691.35 282L1690.84 282.75L1690.29 283.53L1689.73 284.34L1689.15 285.17L1688.56 286.03L1687.96 286.9L1687.35 287.78L1686.74 288.67L1686.14 289.57L1685.55 290.47L1684.97 291.37L1684.41 292.26L1683.86 293.13L1683.35 294L1682.82 294.92L1682.3 295.85L1681.8 296.77L1681.31 297.69L1680.83 298.62L1680.36 299.54L1679.9 300.46L1679.46 301.38L1679.02 302.31L1678.59 303.23L1678.17 304.15L1677.76 305.08L1677.35 306L1676.92 307L1676.49 308.01L1676.08 309.02L1675.68 310.04L1675.29 311.05L1674.91 312.06L1674.54 313.07L1674.18 314.07L1673.83 315.07L1673.49 316.06L1673.16 317.04L1672.85 318L1672.52 319.05L1672.19 320.11L1671.87 321.18L1671.56 322.24L1671.26 323.29L1670.99 324.33L1670.73 325.34L1670.49 326.32L1670.28 327.26L1670.1 328.15L1669.95 329L1669.79 329.99L1669.54 330.56L1669.4 330.97L1669.28 331.46L1669.05 332.29L1668.62 333.72L1668.55 336L1668.55 336.65L1668.55 337.37L1668.55 338.16L1668.55 339.02L1668.55 339.94L1668.55 340.91L1668.55 341.93L1668.55 342.99L1668.55 344.09L1668.55 345.23L1668.55 346.39L1668.55 347.58L1668.55 348.78L1668.55 349.99L1668.55 351.21L1668.55 352.44L1668.55 353.66L1668.55 354.87L1668.55 356.07L1668.55 357.25L1668.55 358.4L1668.55 359.52L1668.55 360.61L1668.55 361.66L1668.55 362.67L1668.55 363.62L1668.55 364.52L1668.55 365.36L1668.55 366.13L1668.55 366.83L1668.55 367.46L1668.55 368L1666.85 368Z" fill="#E69F00"/>
</g>
</g>
<g id="panel5">
<text y="21.2" font-size="28.3" fill="#000" stroke="#fff" stroke-width="0.3"><tspan x="1805.3" textLength="69.89" lengthAdjust="spacingAndGlyphs">Delay</tspan> <tspan x="1883.33" textLength="25.62" lengthAdjust="spacingAndGlyphs">of</tspan> <tspan x="1916.66" textLength="154.06" lengthAdjust="spacingAndGlyphs">gratification</tspan></text>
<g fill-opacity="0.5">
<circle cx="1815.65" cy="76.1" r="4.0" fill="#E69F00"/>
<circle cx="1815.65" cy="86" r="4.0" fill="#E69F00"/>
<circle cx="1815.65" cy="87.2" r="4.0" fill="#E69F00"/>
<circle cx="1815.65" cy="98.4" r="4.0" fill="#E69F00"/>
<circle cx="1815.65" cy="101.2" r="4.0" fill="#E69F00"/>
<circle cx="1815.65" cy="101.8" r="4.0" fill="#E69F00"/>
<circle cx="1815.65" cy="103.3" r="4.0" fill="#E69F00"/>
<circle cx="1815.65" cy="108.2" r="4.0" fill="#E69F00"/>
<circle cx="1815.65" cy="114.4" r="4.0" fill="#E69F00"/>
<circle cx="1815.65" cy="120.5" r="4.0" fill="#E69F00"/>
<circle cx="1815.65" cy="131.8" r="4.0" fill="#E69F00"/>
<circle cx="1815.65" cy="133.9" r="4.0" fill="#E69F00"/>
<circle cx="1815.65" cy="136" r="4.0" fill="#E69F00"/>
<circle cx="1836.07" cy="95.9" r="4.0" fill="#E69F00"/>
<circle cx="1836.07" cy="108.1" r="4.0" fill="#E69F00"/>
<circle cx="1836.07" cy="108.7" r="4.0" fill="#E69F00"/>
<circle cx="1836.07" cy="112.7" r="4.0" fill="#E69F00"/>
<circle cx="1836.07" cy="113.3" r="4.0" fill="#E69F00"/>
<circle cx="1836.07" cy="115" r="4.0" fill="#E69F00"/>
<circle cx="1836.07" cy="121.7" r="4.0" fill="#E69F00"/>
<circle cx="1836.07" cy="122.3" r="4.0" fill="#E69F00"/>
<circle cx="1836.07" cy="124.2" r="4.0" fill="#E69F00"/>
<circle cx="1836.07" cy="127.8" r="4.0" fill="#E69F00"/>
<circle cx="1836.07" cy="128.4" r="4.0" fill="#E69F00"/>
<circle cx="1836.07" cy="133.9" r="4.0" fill="#E69F00"/>
<circle cx="1836.07" cy="147.8" r="4.0" fill="#E69F00"/>
<circle cx="1856.49" cy="100.1" r="4.0" fill="#E69F00"/>
<circle cx="1856.49" cy="115.5" r="4.0" fill="#E69F00"/>
<circle cx="1856.49" cy="116.1" r="4.0" fill="#E69F00"/>
<circle cx="1856.49" cy="119.5" r="4.0" fill="#E69F00"/>
<circle cx="1856.49" cy="133.9" r="4.0" fill="#E69F00"/>
<circle cx="1856.49" cy="136.4" r="4.0" fill="#E69F00"/>
<circle cx="1856.49" cy="137" r="4.0" fill="#E69F00"/>
<circle cx="1856.49" cy="138.8" r="4.0" fill="#E69F00"/>
<circle cx="1856.49" cy="146.5" r="4.0" fill="#E69F00"/>
<circle cx="1856.49" cy="148.5" r="4.0" fill="#E69F00"/>
<circle cx="1856.49" cy="180.6" r="4.0" fill="#E69F00"/>
<circle cx="1856.49" cy="190.6" r="4.0" fill="#E69F00"/>
<circle cx="1876.91" cy="81.4" r="4.0" fill="#E69F00"/>
<circle cx="1876.91" cy="88.9" r="4.0" fill="#E69F00"/>
<circle cx="1876.91" cy="125.5" r="4.0" fill="#E69F00"/>
<circle cx="1876.91" cy="126.1" r="4.0" fill="#E69F00"/>
<circle cx="1876.91" cy="130" r="4.0" fill="#E69F00"/>
<circle cx="1876.91" cy="132.5" r="4.0" fill="#E69F00"/>
<circle cx="1876.91" cy="133.1" r="4.0" fill="#E69F00"/>
<circle cx="1876.91" cy="151.3" r="4.0" fill="#E69F00"/>
<circle cx="1876.91" cy="153.4" r="4.0" fill="#E69F00"/>
<circle cx="1876.91" cy="165.9" r="4.0" fill="#E69F00"/>
<circle cx="1897.33" cy="83.1" r="4.0" fill="#E69F00"/>
<circle cx="1897.33" cy="96.7" r="4.0" fill="#E69F00"/>
<circle cx="1897.33" cy="125.2" r="4.0" fill="#E69F00"/>
<circle cx="1897.33" cy="134.3" r="4.0" fill="#E69F00"/>
<circle cx="1897.33" cy="143" r="4.0" fill="#E69F00"/>
<circle cx="1897.33" cy="144.4" r="4.0" fill="#E69F00"/>
<circle cx="1897.33" cy="161.8" r="4.0" fill="#E69F00"/>
<circle cx="1897.33" cy="182.5" r="4.0" fill="#E69F00"/>
<circle cx="1897.33" cy="188.9" r="4.0" fill="#E69F00"/>
<circle cx="1917.75" cy="100.1" r="4.0" fill="#E69F00"/>
<circle cx="1917.75" cy="126" r="4.0" fill="#E69F00"/>
<circle cx="1917.75" cy="136.4" r="4.0" fill="#E69F00"/>
<circle cx="1917.75" cy="160.6" r="4.0" fill="#E69F00"/>
<circle cx="1917.75" cy="161.7" r="4.0" fill="#E69F00"/>
<circle cx="1917.75" cy="169.1" r="4.0" fill="#E69F00"/>
<circle cx="1917.75" cy="202.8" r="4.0" fill="#E69F00"/>
<circle cx="1917.75" cy="226.6" r="4.0" fill="#E69F00"/>
<circle cx="1938.17" cy="127.2" r="4.0" fill="#E69F00"/>
<circle cx="1938.17" cy="146.7" r="4.0" fill="#E69F00"/>
<circle cx="1938.17" cy="158.3" r="4.0" fill="#E69F00"/>
<circle cx="1938.17" cy="164.3" r="4.0" fill="#E69F00"/>
<circle cx="1938.17" cy="171.5" r="4.0" fill="#E69F00"/>
<circle cx="1938.17" cy="174.6" r="4.0" fill="#E69F00"/>
<circle cx="1938.17" cy="239.5" r="4.0" fill="#E69F00"/>
<circle cx="1958.59" cy="131.3" r="4.0" fill="#E69F00"/>
<circle cx="1958.59" cy="156.9" r="4.0" fill="#E69F00"/>
<circle cx="1958.59" cy="162.5" r="4.0" fill="#E69F00"/>
<circle cx="1958.59" cy="167.3" r="4.0" fill="#E69F00"/>
<circle cx="1958.59" cy="204.2" r="4.0" fill="#E69F00"/>
<circle cx="1958.59" cy="204.8" r="4.0" fill="#E69F00"/>
<circle cx="1979.01" cy="147.1" r="4.0" fill="#E69F00"/>
<circle cx="1979.01" cy="150.6" r="4.0" fill="#E69F00"/>
<circle cx="1979.01" cy="157.3" r="4.0" fill="#E69F00"/>
<circle cx="1979.01" cy="170.1" r="4.0" fill="#E69F00"/>
<circle cx="1979.01" cy="197.3" r="4.0" fill="#E69F00"/>
<circle cx="1999.43" cy="143" r="4.0" fill="#E69F00"/>
<circle cx="1999.43" cy="159.7" r="4.0" fill="#E69F00"/>
<circle cx="1999.43" cy="160.3" r="4.0" fill="#E69F00"/>
<circle cx="1999.43" cy="202.1" r="4.0" fill="#E69F00"/>
<circle cx="2019.85" cy="119.5" r="4.0" fill="#E69F00"/>
<circle cx="2019.85" cy="163.4" r="4.0" fill="#E69F00"/>
<circle cx="2019.85" cy="178.8" r="4.0" fill="#E69F00"/>
<circle cx="2040.27" cy="104.7" r="4.0" fill="#E69F00"/>
<circle cx="2040.27" cy="159" r="4.0" fill="#E69F00"/>
<circle cx="2060.69" cy="157.9" r="4.0" fill="#E69F00"/>
</g>
<g stroke="#000000" fill="none"><line x1="1803.5" x2="1803.5" y1="35.78" y2="382.8" stroke-width="0.75"/><line x1="2072.5" x2="2072.5" y1="35.78" y2="382.8" stroke-width="0.75"/><line x1="1803.12" x2="2072.88" y1="36.14" y2="36.14" stroke-width="0.72"/><line x1="1803.12" x2="2072.88" y1="382.5" y2="382.5" stroke-width="0.6"/></g>
<line x1="1815.65" x2="1815.65" y1="382.88" y2="390.4" stroke="#000" stroke-width="1"/>
<text y="418.3" font-size="24.5" fill="#000" stroke="#fff" stroke-width="0.3"><tspan x="1809.78" textLength="12.95" lengthAdjust="spacingAndGlyphs">1</tspan></text>
<line x1="1897.33" x2="1897.33" y1="382.88" y2="390.4" stroke="#000" stroke-width="1"/>
<text y="418.3" font-size="24.5" fill="#000" stroke="#fff" stroke-width="0.3"><tspan x="1892.31" textLength="13.49" lengthAdjust="spacingAndGlyphs">5</tspan></text>
<line x1="1999.43" x2="1999.43" y1="382.88" y2="390.4" stroke="#000" stroke-width="1"/>
<text y="418.3" font-size="24.5" fill="#000" stroke="#fff" stroke-width="0.3"><tspan x="1986.09" textLength="26.97" lengthAdjust="spacingAndGlyphs">10</tspan></text>
<line x1="2060.69" x2="2060.69" y1="382.88" y2="390.4" stroke="#000" stroke-width="1"/>
<text y="418.3" font-size="24.5" fill="#000" stroke="#fff" stroke-width="0.3"><tspan x="2047.6" textLength="24.95" lengthAdjust="spacingAndGlyphs">13</tspan></text>
<g stroke="#ffffff" stroke-width="2.7" stroke-linejoin="round" fill-opacity="0.5">
<path d="M2082.65 52.5L2085.35 52.5L2085.42 53.12L2085.5 53.95L2085.6 54.94L2085.71 56.03L2085.86 57.19L2086.04 58.35L2086.27 59.47L2086.55 60.5L2086.88 61.46L2087.23 62.41L2087.62 63.35L2088.06 64.28L2088.54 65.21L2089.08 66.14L2089.68 67.07L2090.35 68L2090.94 68.75L2091.57 69.5L2092.23 70.25L2092.94 71L2093.68 71.75L2094.46 72.5L2095.26 73.25L2096.1 74L2096.96 74.75L2097.85 75.5L2098.62 76.12L2099.41 76.74L2100.23 77.36L2101.07 77.97L2101.94 78.59L2102.82 79.21L2103.72 79.83L2104.63 80.45L2105.55 81.08L2106.48 81.71L2107.41 82.35L2108.35 83L2109.16 83.56L2109.99 84.13L2110.82 84.7L2111.67 85.27L2112.53 85.84L2113.39 86.42L2114.26 87.01L2115.13 87.59L2116 88.18L2116.88 88.78L2117.75 89.38L2118.62 89.98L2119.49 90.59L2120.35 91.2L2121.15 91.78L2121.95 92.35L2122.75 92.94L2123.55 93.52L2124.35 94.11L2125.15 94.7L2125.95 95.3L2126.75 95.9L2127.55 96.5L2128.35 97.11L2129.15 97.72L2129.95 98.34L2130.75 98.95L2131.55 99.58L2132.35 100.2L2133.16 100.84L2133.97 101.49L2134.8 102.16L2135.63 102.84L2136.46 103.52L2137.29 104.21L2138.12 104.9L2138.95 105.59L2139.77 106.26L2140.57 106.93L2141.37 107.59L2142.14 108.23L2142.9 108.84L2143.64 109.44L2144.35 110L2145.29 110.73L2146.2 111.41L2147.08 112.05L2147.94 112.66L2148.77 113.25L2149.58 113.82L2150.37 114.39L2151.14 114.95L2151.89 115.52L2152.63 116.1L2153.35 116.7L2154.22 117.46L2155.06 118.22L2155.89 118.99L2156.69 119.76L2157.45 120.53L2158.18 121.29L2158.85 122.04L2159.48 122.78L2160.05 123.5L2160.79 124.58L2161.42 125.67L2161.94 126.74L2162.37 127.75L2162.74 128.68L2163.05 129.5L2163.46 130.61L2163.6 131.39L2163.55 132.5L2163.47 133.31L2163.34 134.22L2163.17 135.22L2162.95 136.28L2162.67 137.38L2162.35 138.5L2162.06 139.37L2161.73 140.27L2161.36 141.2L2160.96 142.16L2160.55 143.12L2160.14 144.09L2159.74 145.05L2159.35 146L2158.99 146.95L2158.64 147.91L2158.29 148.88L2157.94 149.84L2157.58 150.8L2157.21 151.73L2156.8 152.63L2156.35 153.5L2155.81 154.44L2155.26 155.32L2154.68 156.18L2154.07 157.01L2153.4 157.83L2152.66 158.66L2151.85 159.5L2151.16 160.17L2150.44 160.83L2149.68 161.5L2148.89 162.17L2148.05 162.83L2147.18 163.5L2146.28 164.17L2145.33 164.83L2144.35 165.5L2143.58 166L2142.77 166.51L2141.94 167.02L2141.07 167.53L2140.19 168.04L2139.29 168.55L2138.38 169.06L2137.46 169.56L2136.55 170.06L2135.63 170.55L2134.73 171.03L2133.85 171.5L2132.89 172L2131.92 172.47L2130.95 172.93L2129.97 173.38L2128.99 173.83L2128.02 174.27L2127.06 174.72L2126.11 175.19L2125.17 175.67L2124.25 176.17L2123.35 176.7L2122.46 177.26L2121.58 177.83L2120.71 178.42L2119.84 179.03L2118.99 179.64L2118.15 180.27L2117.34 180.91L2116.55 181.55L2115.78 182.2L2115.05 182.85L2114.35 183.5L2113.54 184.29L2112.79 185.09L2112.07 185.89L2111.4 186.7L2110.75 187.53L2110.13 188.36L2109.52 189.22L2108.93 190.1L2108.35 191L2107.85 191.84L2107.38 192.7L2106.94 193.59L2106.51 194.49L2106.1 195.41L2105.69 196.33L2105.26 197.25L2104.82 198.18L2104.35 199.09L2103.85 200L2103.31 200.9L2102.73 201.8L2102.14 202.7L2101.52 203.6L2100.9 204.5L2100.27 205.4L2099.65 206.3L2099.03 207.2L2098.43 208.1L2097.85 209L2097.28 209.9L2096.7 210.8L2096.12 211.7L2095.54 212.6L2094.97 213.5L2094.43 214.4L2093.9 215.3L2093.41 216.2L2092.96 217.1L2092.55 218L2092.15 219L2091.8 220L2091.5 221L2091.24 222L2091 223L2090.78 224L2090.57 225L2090.36 226L2090.15 227L2089.95 227.99L2089.76 228.98L2089.59 229.96L2089.44 230.95L2089.29 231.93L2089.14 232.93L2088.99 233.93L2088.82 234.96L2088.65 236L2088.48 236.97L2088.3 237.96L2088.12 238.98L2087.94 240.01L2087.75 241.05L2087.56 242.08L2087.38 243.1L2087.2 244.1L2087.02 245.07L2086.85 246L2086.64 247.17L2086.42 248.37L2086.2 249.57L2085.99 250.72L2085.79 251.8L2085.61 252.77L2085.46 253.58L2085.35 254.2L2082.65 254.2Z" fill="#E69F00"/>
</g>
</g>
<g id="yaxis">
<line x1="106.4" x2="114.03" y1="51.6" y2="51.6" stroke="#000" stroke-width="1"/>
<text y="60.75" font-size="24.5" fill="#000" stroke="#fff" stroke-width="0.3"><tspan x="48.66" textLength="47.13" lengthAdjust="spacingAndGlyphs">1.00</tspan></text>
<line x1="106.4" x2="114.03" y1="130.45" y2="130.45" stroke="#000" stroke-width="1"/>
<text y="139.6" font-size="24.5" fill="#000" stroke="#fff" stroke-width="0.3"><tspan x="51.09" textLength="44.17" lengthAdjust="spacingAndGlyphs">0.75</tspan></text>
<line x1="106.4" x2="114.03" y1="209.1" y2="209.1" stroke="#000" stroke-width="1"/>
<text y="218.25" font-size="24.5" fill="#000" stroke="#fff" stroke-width="0.3"><tspan x="46.49" textLength="49.35" lengthAdjust="spacingAndGlyphs">0.50</tspan></text>
<line x1="106.4" x2="114.03" y1="288.1" y2="288.1" stroke="#000" stroke-width="1"/>
<text y="297.25" font-size="24.5" fill="#000" stroke="#fff" stroke-width="0.3"><tspan x="48.85" textLength="46.47" lengthAdjust="spacingAndGlyphs">0.25</tspan></text>
<line x1="106.4" x2="114.03" y1="367" y2="367" stroke="#000" stroke-width="1"/>
<text y="376.15" font-size="24.5" fill="#000" stroke="#fff" stroke-width="0.3"><tspan x="80.17" textLength="15.76" lengthAdjust="spacingAndGlyphs">0</tspan></text>
<g transform="translate(21.4 320.1) rotate(-90)"><text y="0" font-size="28.3" fill="#000" stroke="#fff" stroke-width="0.3"><tspan x="-2.19" textLength="78.67" lengthAdjust="spacingAndGlyphs">Retest</tspan> <tspan x="84.87" textLength="139.07" lengthAdjust="spacingAndGlyphs">correlation</tspan></text></g>
</g>
<text y="461.2" font-size="28.3" fill="#000" stroke="#fff" stroke-width="0.3"><tspan x="910.53" textLength="109.97" lengthAdjust="spacingAndGlyphs">Distance</tspan> <tspan x="1027.88" textLength="110.38" lengthAdjust="spacingAndGlyphs">between</tspan> <tspan x="1145.56" textLength="56.67" lengthAdjust="spacingAndGlyphs">time</tspan> <tspan x="1208.74" textLength="79.49" lengthAdjust="spacingAndGlyphs">points</tspan></text>
<g id="legend">
<rect x="1824.9" y="260.2" width="36.9" height="36.6" fill="#000000" fill-opacity="0.5"/>
<circle cx="1843.3" cy="278.6" r="4.0" fill="#000000" fill-opacity="0.5"/>
<rect x="1824.9" y="303.6" width="36.9" height="36.4" fill="#E69F00" fill-opacity="0.5"/>
<circle cx="1843.3" cy="321.7" r="4.0" fill="#E69F00" fill-opacity="0.5"/>
<text y="287.6" font-size="28.3" fill="#000" stroke="#fff" stroke-width="0.3"><tspan x="1878.08" textLength="74.91" lengthAdjust="spacingAndGlyphs">Phase</tspan> <tspan x="1959.28" textLength="14.96" lengthAdjust="spacingAndGlyphs">1</tspan></text>
<text y="330.9" font-size="28.3" fill="#000" stroke="#fff" stroke-width="0.3"><tspan x="1878.08" textLength="74.91" lengthAdjust="spacingAndGlyphs">Phase</tspan> <tspan x="1959.34" textLength="16.25" lengthAdjust="spacingAndGlyphs">2</tspan></text>
</g>
</svg>
</body>
</html>
